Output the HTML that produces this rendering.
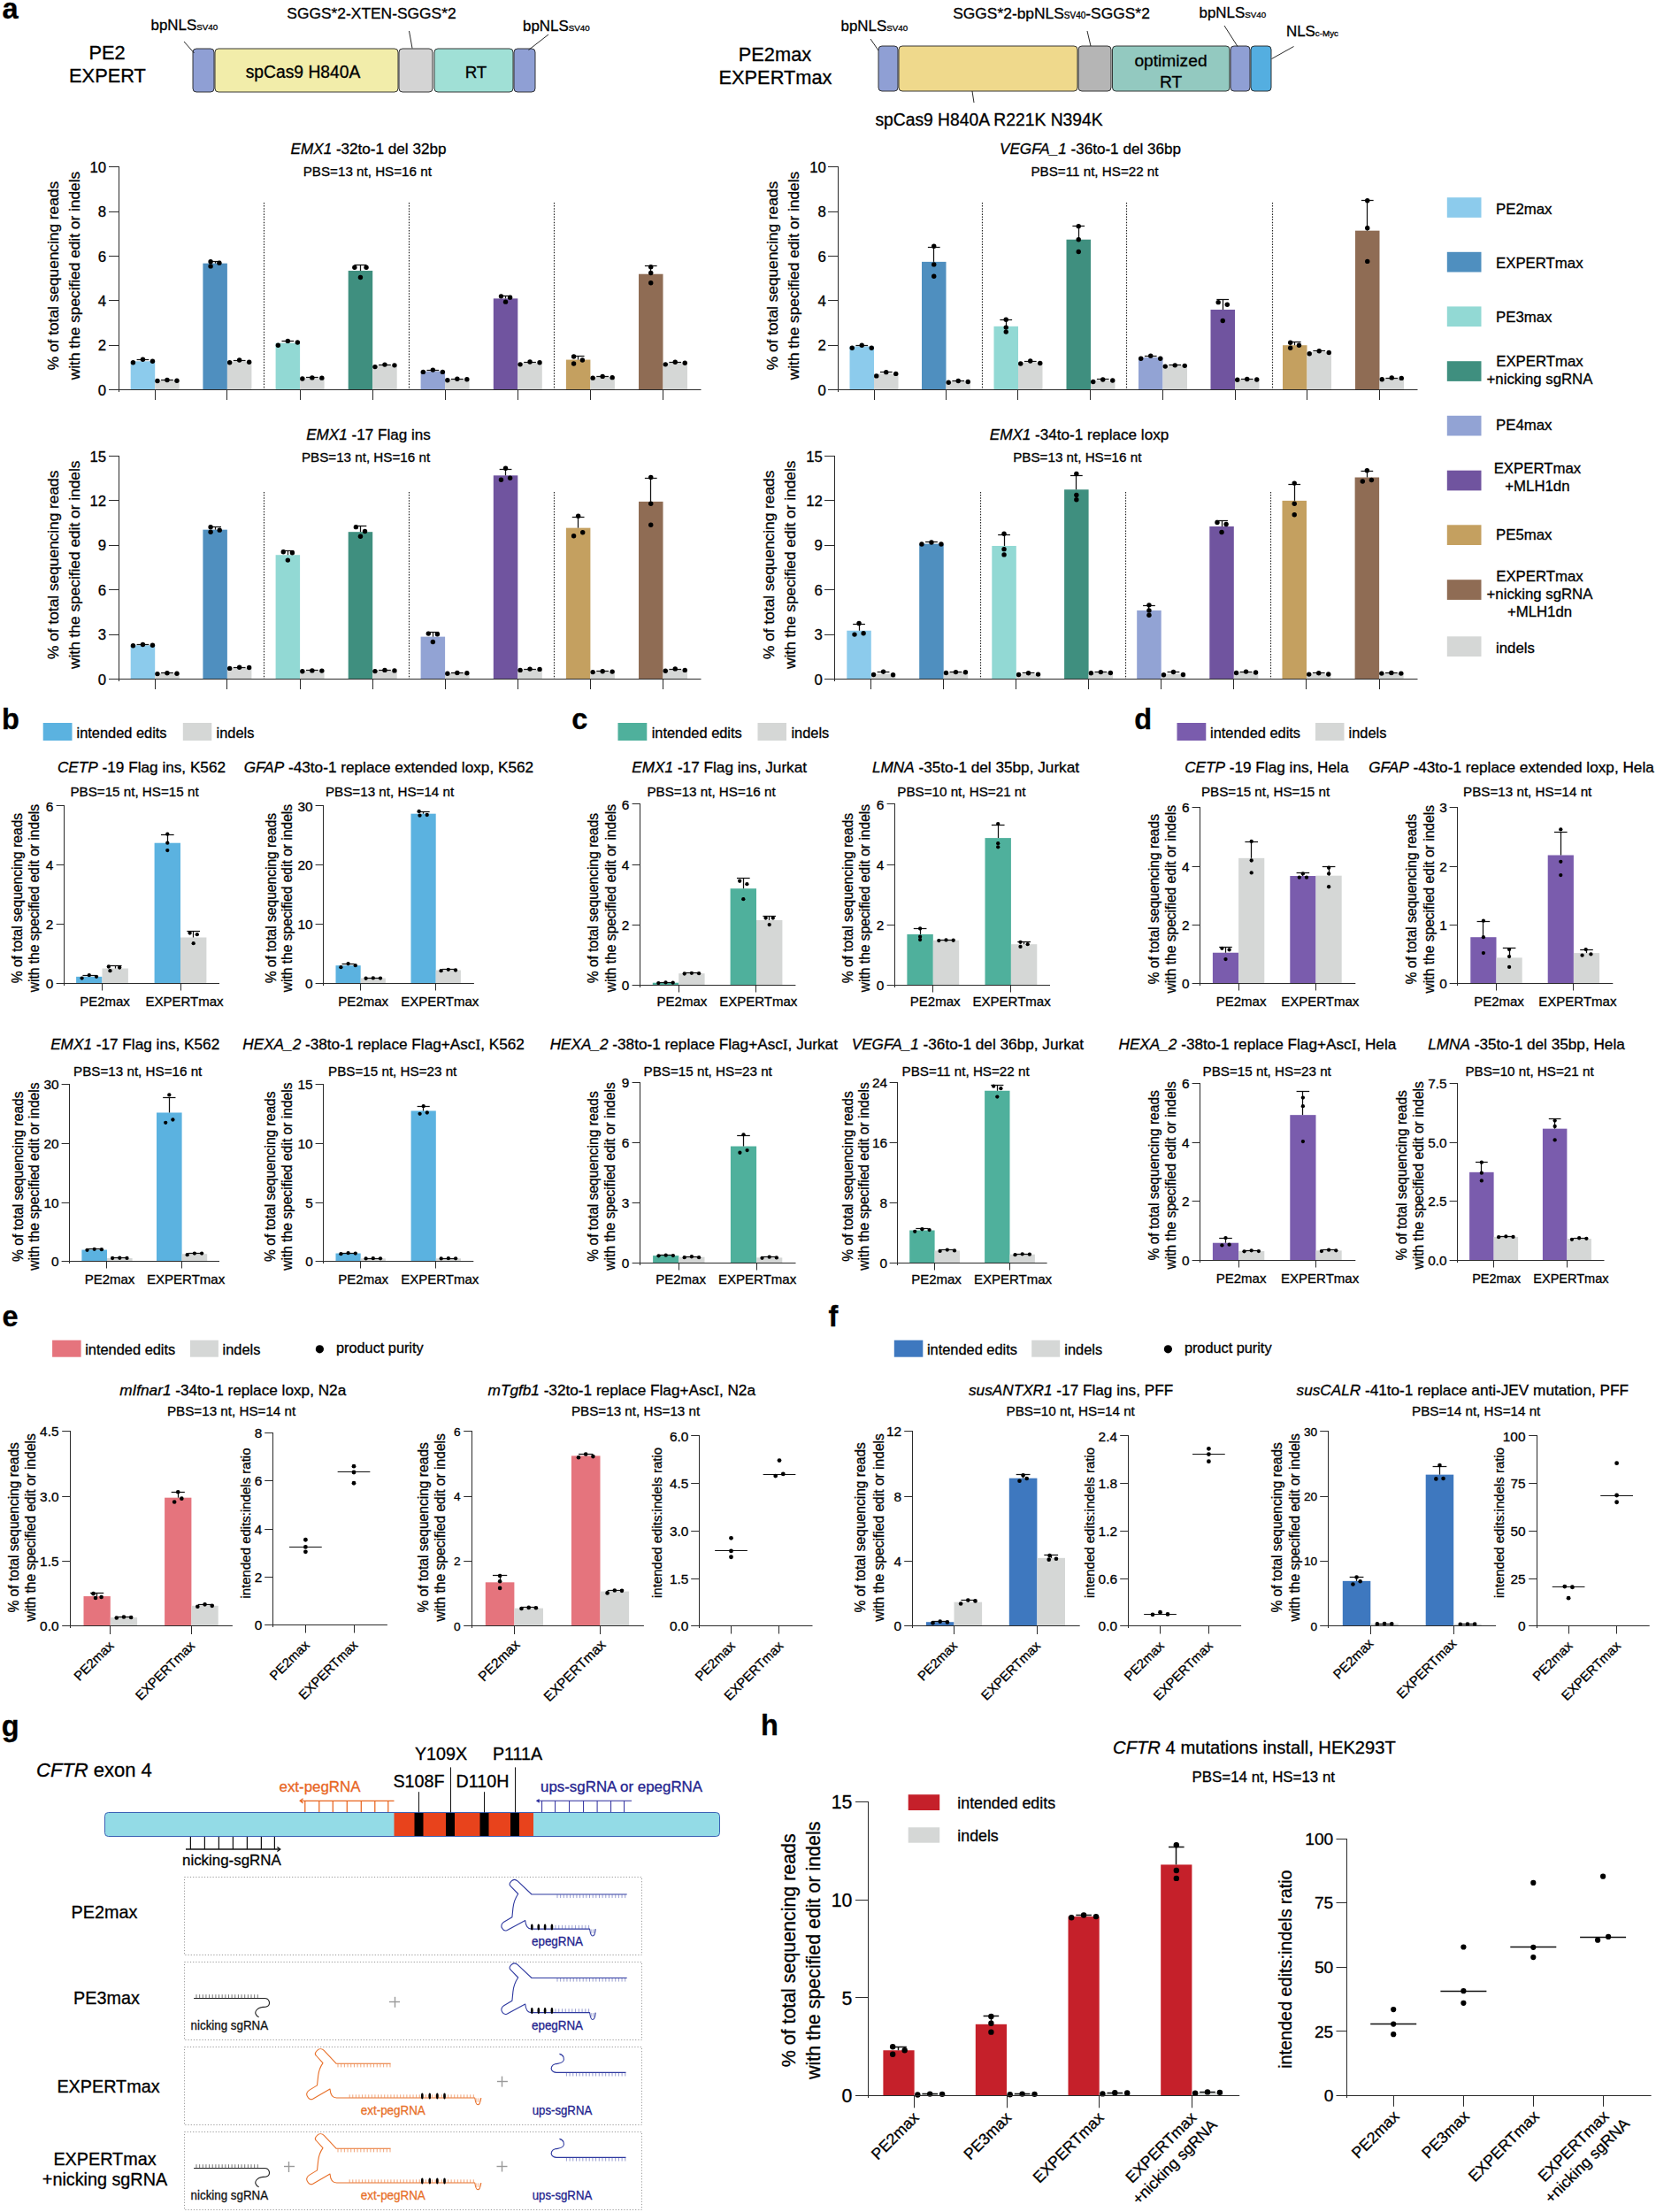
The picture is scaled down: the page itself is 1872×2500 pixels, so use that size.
<!DOCTYPE html>
<html><head><meta charset="utf-8"><title>Figure</title>
<style>html,body{margin:0;padding:0;background:#fff}svg{display:block}</style></head>
<body>
<svg width="1872" height="2500" viewBox="0 0 1872 2500" font-family='"Liberation Sans", sans-serif' stroke-width="0.3">
<rect width="1872" height="2500" fill="#fff"/>
<text x="2.50" y="21.00" font-size="32.5" text-anchor="start" fill="#000" stroke="#000" font-weight="bold">a</text>
<text x="2.00" y="823.50" font-size="32.5" text-anchor="start" fill="#000" stroke="#000" font-weight="bold">b</text>
<text x="646.30" y="823.50" font-size="32.5" text-anchor="start" fill="#000" stroke="#000" font-weight="bold">c</text>
<text x="1282.30" y="823.50" font-size="32.5" text-anchor="start" fill="#000" stroke="#000" font-weight="bold">d</text>
<text x="2.40" y="1498.60" font-size="32.5" text-anchor="start" fill="#000" stroke="#000" font-weight="bold">e</text>
<text x="936.60" y="1498.50" font-size="32.5" text-anchor="start" fill="#000" stroke="#000" font-weight="bold">f</text>
<text x="1.80" y="1961.50" font-size="32.5" text-anchor="start" fill="#000" stroke="#000" font-weight="bold">g</text>
<text x="860.00" y="1961.00" font-size="32.5" text-anchor="start" fill="#000" stroke="#000" font-weight="bold">h</text>
<text x="121.00" y="67.00" font-size="21.8" text-anchor="middle" fill="#000" stroke="#000">PE2</text>
<text x="121.50" y="93.00" font-size="21.8" text-anchor="middle" fill="#000" stroke="#000">EXPERT</text>
<rect x="218.00" y="55.00" width="24.00" height="49.00" rx="4" ry="4" fill="#8f9fd4" stroke="#222" stroke-width="0.9"/>
<rect x="243.00" y="55.00" width="207.00" height="49.00" rx="4" ry="4" fill="#f2edaa" stroke="#222" stroke-width="0.9"/>
<rect x="451.00" y="55.00" width="38.00" height="49.00" rx="4" ry="4" fill="#d4d4d4" stroke="#222" stroke-width="0.9"/>
<rect x="491.00" y="55.00" width="89.00" height="49.00" rx="4" ry="4" fill="#a0e0d6" stroke="#222" stroke-width="0.9"/>
<rect x="581.00" y="55.00" width="24.00" height="49.00" rx="4" ry="4" fill="#8f9fd4" stroke="#222" stroke-width="0.9"/>
<text x="342.50" y="88.00" font-size="19.3" text-anchor="middle" fill="#000" stroke="#000">spCas9 H840A</text>
<text x="538.00" y="88.00" font-size="18.8" text-anchor="middle" fill="#000" stroke="#000">RT</text>
<text x="170.50" y="34.20" font-size="16.9" text-anchor="start" fill="#000" stroke="#000">bpNLS<tspan font-size="9.80">SV40</tspan></text>
<text x="591.00" y="34.50" font-size="16.9" text-anchor="start" fill="#000" stroke="#000">bpNLS<tspan font-size="9.80">SV40</tspan></text>
<text x="420.00" y="21.00" font-size="17.4" text-anchor="middle" fill="#000" stroke="#000">SGGS*2-XTEN-SGGS*2</text>
<line x1="208.00" y1="47.00" x2="219.50" y2="60.00" stroke="#111" stroke-width="0.9"/>
<line x1="462.50" y1="35.00" x2="466.00" y2="54.50" stroke="#111" stroke-width="0.9"/>
<line x1="620.00" y1="39.00" x2="597.50" y2="56.50" stroke="#111" stroke-width="0.9"/>
<text x="876.00" y="69.00" font-size="21.8" text-anchor="middle" fill="#000" stroke="#000">PE2max</text>
<text x="876.50" y="95.00" font-size="21.8" text-anchor="middle" fill="#000" stroke="#000">EXPERTmax</text>
<rect x="993.00" y="52.00" width="22.00" height="51.00" rx="4" ry="4" fill="#8f9fd4" stroke="#222" stroke-width="0.9"/>
<rect x="1016.00" y="52.00" width="202.00" height="51.00" rx="4" ry="4" fill="#efd98c" stroke="#222" stroke-width="0.9"/>
<rect x="1219.00" y="52.00" width="37.00" height="51.00" rx="4" ry="4" fill="#b5b5b5" stroke="#222" stroke-width="0.9"/>
<rect x="1257.50" y="52.00" width="132.50" height="51.00" rx="4" ry="4" fill="#93c9c0" stroke="#222" stroke-width="0.9"/>
<rect x="1391.00" y="52.00" width="22.00" height="51.00" rx="4" ry="4" fill="#8f9fd4" stroke="#222" stroke-width="0.9"/>
<rect x="1414.00" y="52.00" width="23.00" height="51.00" rx="4" ry="4" fill="#54aee0" stroke="#222" stroke-width="0.9"/>
<text x="1323.50" y="75.00" font-size="19.2" text-anchor="middle" fill="#000" stroke="#000">optimized</text>
<text x="1323.50" y="99.00" font-size="19.2" text-anchor="middle" fill="#000" stroke="#000">RT</text>
<text x="950.50" y="35.00" font-size="16.9" text-anchor="start" fill="#000" stroke="#000">bpNLS<tspan font-size="9.80">SV40</tspan></text>
<text x="1355.50" y="20.00" font-size="16.9" text-anchor="start" fill="#000" stroke="#000">bpNLS<tspan font-size="9.80">SV40</tspan></text>
<text x="1454.00" y="41.00" font-size="16.9" text-anchor="start" fill="#000" stroke="#000">NLS<tspan font-size="9.80">c-Myc</tspan></text>
<text x="1188.5" y="21" font-size="17.4" text-anchor="middle" fill="#000" stroke="#000">SGGS*2-bpNLS<tspan font-size="10">SV40</tspan>-SGGS*2</text>
<text x="1118.00" y="142.00" font-size="19.3" text-anchor="middle" fill="#000" stroke="#000">spCas9 H840A R221K N394K</text>
<line x1="984.00" y1="44.00" x2="993.00" y2="57.00" stroke="#111" stroke-width="0.9"/>
<line x1="1229.00" y1="35.00" x2="1233.00" y2="52.00" stroke="#111" stroke-width="0.9"/>
<line x1="1384.00" y1="29.00" x2="1399.00" y2="52.50" stroke="#111" stroke-width="0.9"/>
<line x1="1462.50" y1="52.50" x2="1437.50" y2="66.50" stroke="#111" stroke-width="0.9"/>
<line x1="1099.00" y1="103.00" x2="1101.00" y2="116.00" stroke="#111" stroke-width="0.9"/>
<line x1="298.50" y1="229.00" x2="298.50" y2="440.50" stroke="#222" stroke-width="1.15" stroke-dasharray="1.5 1.6"/>
<line x1="462.50" y1="229.00" x2="462.50" y2="440.50" stroke="#222" stroke-width="1.15" stroke-dasharray="1.5 1.6"/>
<line x1="626.50" y1="229.00" x2="626.50" y2="440.50" stroke="#222" stroke-width="1.15" stroke-dasharray="1.5 1.6"/>
<rect x="147.70" y="408.31" width="27.50" height="31.69" fill="#8ccbec"/>
<line x1="161.50" y1="408.31" x2="161.50" y2="406.80" stroke="#111" stroke-width="1.25"/>
<line x1="154.57" y1="406.50" x2="168.32" y2="406.50" stroke="#111" stroke-width="1.25"/>
<circle cx="150.45" cy="409.82" r="2.7" fill="#000"/>
<circle cx="161.45" cy="406.30" r="2.7" fill="#000"/>
<circle cx="172.45" cy="408.31" r="2.7" fill="#000"/>
<rect x="175.20" y="429.94" width="27.50" height="10.06" fill="#d5d7d6"/>
<line x1="188.50" y1="429.94" x2="188.50" y2="429.43" stroke="#111" stroke-width="1.25"/>
<line x1="182.07" y1="429.50" x2="195.82" y2="429.50" stroke="#111" stroke-width="1.25"/>
<circle cx="177.95" cy="430.44" r="2.7" fill="#000"/>
<circle cx="188.95" cy="429.43" r="2.7" fill="#000"/>
<circle cx="199.95" cy="430.19" r="2.7" fill="#000"/>
<rect x="229.40" y="297.65" width="27.50" height="142.35" fill="#4f8fbf"/>
<line x1="243.50" y1="297.65" x2="243.50" y2="295.13" stroke="#111" stroke-width="1.25"/>
<line x1="236.27" y1="295.50" x2="250.02" y2="295.50" stroke="#111" stroke-width="1.25"/>
<circle cx="238.09" cy="295.64" r="2.7" fill="#000"/>
<circle cx="238.09" cy="300.92" r="2.7" fill="#000"/>
<circle cx="247.88" cy="297.14" r="2.7" fill="#000"/>
<rect x="256.90" y="408.56" width="27.50" height="31.44" fill="#d5d7d6"/>
<line x1="270.50" y1="408.56" x2="270.50" y2="407.30" stroke="#111" stroke-width="1.25"/>
<line x1="263.77" y1="407.50" x2="277.52" y2="407.50" stroke="#111" stroke-width="1.25"/>
<circle cx="259.65" cy="409.82" r="2.7" fill="#000"/>
<circle cx="270.65" cy="407.05" r="2.7" fill="#000"/>
<circle cx="281.65" cy="409.31" r="2.7" fill="#000"/>
<rect x="311.60" y="387.69" width="27.50" height="52.31" fill="#92d9d4"/>
<line x1="325.50" y1="387.69" x2="325.50" y2="385.67" stroke="#111" stroke-width="1.25"/>
<line x1="318.48" y1="385.50" x2="332.23" y2="385.50" stroke="#111" stroke-width="1.25"/>
<circle cx="314.35" cy="390.20" r="2.7" fill="#000"/>
<circle cx="325.35" cy="385.42" r="2.7" fill="#000"/>
<circle cx="336.35" cy="386.93" r="2.7" fill="#000"/>
<rect x="339.10" y="427.42" width="27.50" height="12.58" fill="#d5d7d6"/>
<line x1="352.50" y1="427.42" x2="352.50" y2="426.92" stroke="#111" stroke-width="1.25"/>
<line x1="345.98" y1="426.50" x2="359.73" y2="426.50" stroke="#111" stroke-width="1.25"/>
<circle cx="341.85" cy="427.93" r="2.7" fill="#000"/>
<circle cx="352.85" cy="426.92" r="2.7" fill="#000"/>
<circle cx="363.85" cy="427.17" r="2.7" fill="#000"/>
<rect x="393.70" y="305.95" width="27.50" height="134.05" fill="#3f8f7f"/>
<line x1="407.50" y1="305.95" x2="407.50" y2="299.66" stroke="#111" stroke-width="1.25"/>
<line x1="400.57" y1="299.50" x2="414.32" y2="299.50" stroke="#111" stroke-width="1.25"/>
<circle cx="400.85" cy="302.18" r="2.7" fill="#000"/>
<circle cx="407.45" cy="313.49" r="2.7" fill="#000"/>
<circle cx="414.05" cy="302.18" r="2.7" fill="#000"/>
<rect x="421.20" y="413.34" width="27.50" height="26.66" fill="#d5d7d6"/>
<line x1="434.50" y1="413.34" x2="434.50" y2="412.33" stroke="#111" stroke-width="1.25"/>
<line x1="428.07" y1="412.50" x2="441.82" y2="412.50" stroke="#111" stroke-width="1.25"/>
<circle cx="423.95" cy="414.60" r="2.7" fill="#000"/>
<circle cx="434.95" cy="412.08" r="2.7" fill="#000"/>
<circle cx="445.95" cy="412.83" r="2.7" fill="#000"/>
<rect x="475.60" y="419.63" width="27.50" height="20.37" fill="#92a3d4"/>
<line x1="489.50" y1="419.63" x2="489.50" y2="418.37" stroke="#111" stroke-width="1.25"/>
<line x1="482.48" y1="418.50" x2="496.23" y2="418.50" stroke="#111" stroke-width="1.25"/>
<circle cx="478.35" cy="420.38" r="2.7" fill="#000"/>
<circle cx="489.35" cy="418.12" r="2.7" fill="#000"/>
<circle cx="500.35" cy="420.38" r="2.7" fill="#000"/>
<rect x="503.10" y="428.68" width="27.50" height="11.32" fill="#d5d7d6"/>
<line x1="516.50" y1="428.68" x2="516.50" y2="428.18" stroke="#111" stroke-width="1.25"/>
<line x1="509.98" y1="428.50" x2="523.73" y2="428.50" stroke="#111" stroke-width="1.25"/>
<circle cx="505.85" cy="429.69" r="2.7" fill="#000"/>
<circle cx="516.85" cy="428.18" r="2.7" fill="#000"/>
<circle cx="527.85" cy="428.68" r="2.7" fill="#000"/>
<rect x="557.80" y="337.38" width="27.50" height="102.62" fill="#70549f"/>
<line x1="571.50" y1="337.38" x2="571.50" y2="334.37" stroke="#111" stroke-width="1.25"/>
<line x1="564.67" y1="334.50" x2="578.42" y2="334.50" stroke="#111" stroke-width="1.25"/>
<circle cx="566.49" cy="334.87" r="2.7" fill="#000"/>
<circle cx="571.55" cy="341.16" r="2.7" fill="#000"/>
<circle cx="576.61" cy="336.13" r="2.7" fill="#000"/>
<rect x="585.30" y="410.32" width="27.50" height="29.68" fill="#d5d7d6"/>
<line x1="599.50" y1="410.32" x2="599.50" y2="409.31" stroke="#111" stroke-width="1.25"/>
<line x1="592.17" y1="409.50" x2="605.92" y2="409.50" stroke="#111" stroke-width="1.25"/>
<circle cx="588.05" cy="411.83" r="2.7" fill="#000"/>
<circle cx="599.05" cy="409.06" r="2.7" fill="#000"/>
<circle cx="610.05" cy="409.82" r="2.7" fill="#000"/>
<rect x="639.90" y="406.55" width="27.50" height="33.45" fill="#c4a060"/>
<line x1="653.50" y1="406.55" x2="653.50" y2="402.52" stroke="#111" stroke-width="1.25"/>
<line x1="646.77" y1="402.50" x2="660.52" y2="402.50" stroke="#111" stroke-width="1.25"/>
<circle cx="648.59" cy="403.03" r="2.7" fill="#000"/>
<circle cx="648.59" cy="411.07" r="2.7" fill="#000"/>
<circle cx="658.38" cy="407.05" r="2.7" fill="#000"/>
<rect x="667.40" y="426.16" width="27.50" height="13.84" fill="#d5d7d6"/>
<line x1="681.50" y1="426.16" x2="681.50" y2="425.41" stroke="#111" stroke-width="1.25"/>
<line x1="674.27" y1="425.50" x2="688.02" y2="425.50" stroke="#111" stroke-width="1.25"/>
<circle cx="670.15" cy="427.17" r="2.7" fill="#000"/>
<circle cx="681.15" cy="425.41" r="2.7" fill="#000"/>
<circle cx="692.15" cy="426.67" r="2.7" fill="#000"/>
<rect x="722.00" y="309.72" width="27.50" height="130.28" fill="#8f6c54"/>
<line x1="735.50" y1="309.72" x2="735.50" y2="300.16" stroke="#111" stroke-width="1.25"/>
<line x1="728.88" y1="300.50" x2="742.62" y2="300.50" stroke="#111" stroke-width="1.25"/>
<circle cx="735.75" cy="301.67" r="2.7" fill="#000"/>
<circle cx="735.75" cy="308.46" r="2.7" fill="#000"/>
<circle cx="735.75" cy="319.78" r="2.7" fill="#000"/>
<rect x="749.50" y="410.32" width="27.50" height="29.68" fill="#d5d7d6"/>
<line x1="763.50" y1="410.32" x2="763.50" y2="409.31" stroke="#111" stroke-width="1.25"/>
<line x1="756.38" y1="409.50" x2="770.12" y2="409.50" stroke="#111" stroke-width="1.25"/>
<circle cx="752.25" cy="411.83" r="2.7" fill="#000"/>
<circle cx="763.25" cy="409.31" r="2.7" fill="#000"/>
<circle cx="774.25" cy="410.32" r="2.7" fill="#000"/>
<line x1="134.50" y1="188.00" x2="134.50" y2="443.00" stroke="#2b2b2b" stroke-width="1"/>
<line x1="123.00" y1="440.50" x2="792.50" y2="440.50" stroke="#2b2b2b" stroke-width="1"/>
<text x="120.20" y="446.51" font-size="16.8" text-anchor="end" fill="#000" stroke="#000">0</text>
<line x1="123.00" y1="390.50" x2="134.50" y2="390.50" stroke="#2b2b2b" stroke-width="1"/>
<text x="120.20" y="396.21" font-size="16.8" text-anchor="end" fill="#000" stroke="#000">2</text>
<line x1="123.00" y1="339.50" x2="134.50" y2="339.50" stroke="#2b2b2b" stroke-width="1"/>
<text x="120.20" y="345.91" font-size="16.8" text-anchor="end" fill="#000" stroke="#000">4</text>
<line x1="123.00" y1="289.50" x2="134.50" y2="289.50" stroke="#2b2b2b" stroke-width="1"/>
<text x="120.20" y="295.61" font-size="16.8" text-anchor="end" fill="#000" stroke="#000">6</text>
<line x1="123.00" y1="239.50" x2="134.50" y2="239.50" stroke="#2b2b2b" stroke-width="1"/>
<text x="120.20" y="245.31" font-size="16.8" text-anchor="end" fill="#000" stroke="#000">8</text>
<line x1="123.00" y1="188.50" x2="134.50" y2="188.50" stroke="#2b2b2b" stroke-width="1"/>
<text x="120.20" y="195.01" font-size="16.8" text-anchor="end" fill="#000" stroke="#000">10</text>
<line x1="175.50" y1="440.50" x2="175.50" y2="452.00" stroke="#2b2b2b" stroke-width="1"/>
<line x1="256.50" y1="440.50" x2="256.50" y2="452.00" stroke="#2b2b2b" stroke-width="1"/>
<line x1="339.50" y1="440.50" x2="339.50" y2="452.00" stroke="#2b2b2b" stroke-width="1"/>
<line x1="421.50" y1="440.50" x2="421.50" y2="452.00" stroke="#2b2b2b" stroke-width="1"/>
<line x1="503.50" y1="440.50" x2="503.50" y2="452.00" stroke="#2b2b2b" stroke-width="1"/>
<line x1="585.50" y1="440.50" x2="585.50" y2="452.00" stroke="#2b2b2b" stroke-width="1"/>
<line x1="667.50" y1="440.50" x2="667.50" y2="452.00" stroke="#2b2b2b" stroke-width="1"/>
<line x1="749.50" y1="440.50" x2="749.50" y2="452.00" stroke="#2b2b2b" stroke-width="1"/>
<text x="416.50" y="174.00" font-size="17.1" text-anchor="middle" fill="#000" stroke="#000"><tspan font-style="italic">EMX1</tspan> -32to-1 del 32bp</text>
<text x="415.30" y="199.00" font-size="15.2" text-anchor="middle" fill="#000" stroke="#000">PBS=13 nt, HS=16 nt</text>
<text x="65.60" y="311.55" font-size="17.3" text-anchor="middle" fill="#000" stroke="#000" transform="rotate(-90 65.60 311.55)">% of total sequencing reads</text>
<text x="89.60" y="311.55" font-size="17.3" text-anchor="middle" fill="#000" stroke="#000" transform="rotate(-90 89.60 311.55)">with the specified edit or indels</text>
<line x1="1110.50" y1="229.00" x2="1110.50" y2="440.50" stroke="#222" stroke-width="1.15" stroke-dasharray="1.5 1.6"/>
<line x1="1273.50" y1="229.00" x2="1273.50" y2="440.50" stroke="#222" stroke-width="1.15" stroke-dasharray="1.5 1.6"/>
<line x1="1438.50" y1="229.00" x2="1438.50" y2="440.50" stroke="#222" stroke-width="1.15" stroke-dasharray="1.5 1.6"/>
<rect x="960.50" y="391.46" width="27.50" height="48.54" fill="#8ccbec"/>
<line x1="974.50" y1="391.46" x2="974.50" y2="390.20" stroke="#111" stroke-width="1.25"/>
<line x1="967.38" y1="390.50" x2="981.12" y2="390.50" stroke="#111" stroke-width="1.25"/>
<circle cx="963.25" cy="393.22" r="2.7" fill="#000"/>
<circle cx="974.25" cy="390.20" r="2.7" fill="#000"/>
<circle cx="985.25" cy="393.22" r="2.7" fill="#000"/>
<rect x="988.00" y="422.39" width="27.50" height="17.61" fill="#d5d7d6"/>
<line x1="1001.50" y1="422.39" x2="1001.50" y2="420.88" stroke="#111" stroke-width="1.25"/>
<line x1="994.88" y1="420.50" x2="1008.62" y2="420.50" stroke="#111" stroke-width="1.25"/>
<circle cx="990.75" cy="424.91" r="2.7" fill="#000"/>
<circle cx="1001.75" cy="420.63" r="2.7" fill="#000"/>
<circle cx="1012.75" cy="422.39" r="2.7" fill="#000"/>
<rect x="1042.00" y="295.89" width="27.50" height="144.11" fill="#4f8fbf"/>
<line x1="1055.50" y1="295.89" x2="1055.50" y2="279.04" stroke="#111" stroke-width="1.25"/>
<line x1="1048.88" y1="279.50" x2="1062.62" y2="279.50" stroke="#111" stroke-width="1.25"/>
<circle cx="1055.75" cy="278.28" r="2.7" fill="#000"/>
<circle cx="1055.75" cy="298.91" r="2.7" fill="#000"/>
<circle cx="1055.75" cy="312.24" r="2.7" fill="#000"/>
<rect x="1069.50" y="430.94" width="27.50" height="9.06" fill="#d5d7d6"/>
<line x1="1083.50" y1="430.94" x2="1083.50" y2="430.44" stroke="#111" stroke-width="1.25"/>
<line x1="1076.38" y1="430.50" x2="1090.12" y2="430.50" stroke="#111" stroke-width="1.25"/>
<circle cx="1072.25" cy="432.20" r="2.7" fill="#000"/>
<circle cx="1083.25" cy="430.44" r="2.7" fill="#000"/>
<circle cx="1094.25" cy="431.45" r="2.7" fill="#000"/>
<rect x="1123.50" y="368.82" width="27.50" height="71.18" fill="#92d9d4"/>
<line x1="1137.50" y1="368.82" x2="1137.50" y2="361.28" stroke="#111" stroke-width="1.25"/>
<line x1="1130.38" y1="361.50" x2="1144.12" y2="361.50" stroke="#111" stroke-width="1.25"/>
<circle cx="1137.25" cy="361.28" r="2.7" fill="#000"/>
<circle cx="1137.25" cy="370.08" r="2.7" fill="#000"/>
<circle cx="1137.25" cy="375.11" r="2.7" fill="#000"/>
<rect x="1151.00" y="409.82" width="27.50" height="30.18" fill="#d5d7d6"/>
<line x1="1164.50" y1="409.82" x2="1164.50" y2="408.31" stroke="#111" stroke-width="1.25"/>
<line x1="1157.88" y1="408.50" x2="1171.62" y2="408.50" stroke="#111" stroke-width="1.25"/>
<circle cx="1153.75" cy="411.07" r="2.7" fill="#000"/>
<circle cx="1164.75" cy="408.06" r="2.7" fill="#000"/>
<circle cx="1175.75" cy="410.57" r="2.7" fill="#000"/>
<rect x="1205.50" y="270.74" width="27.50" height="169.26" fill="#3f8f7f"/>
<line x1="1219.50" y1="270.74" x2="1219.50" y2="255.65" stroke="#111" stroke-width="1.25"/>
<line x1="1212.38" y1="255.50" x2="1226.12" y2="255.50" stroke="#111" stroke-width="1.25"/>
<circle cx="1219.25" cy="255.65" r="2.7" fill="#000"/>
<circle cx="1219.25" cy="270.74" r="2.7" fill="#000"/>
<circle cx="1219.25" cy="284.57" r="2.7" fill="#000"/>
<rect x="1233.00" y="429.94" width="27.50" height="10.06" fill="#d5d7d6"/>
<line x1="1246.50" y1="429.94" x2="1246.50" y2="428.93" stroke="#111" stroke-width="1.25"/>
<line x1="1239.88" y1="428.50" x2="1253.62" y2="428.50" stroke="#111" stroke-width="1.25"/>
<circle cx="1235.75" cy="431.45" r="2.7" fill="#000"/>
<circle cx="1246.75" cy="428.93" r="2.7" fill="#000"/>
<circle cx="1257.75" cy="429.94" r="2.7" fill="#000"/>
<rect x="1287.00" y="404.03" width="27.50" height="35.97" fill="#92a3d4"/>
<line x1="1300.50" y1="404.03" x2="1300.50" y2="402.77" stroke="#111" stroke-width="1.25"/>
<line x1="1293.88" y1="402.50" x2="1307.62" y2="402.50" stroke="#111" stroke-width="1.25"/>
<circle cx="1289.75" cy="405.29" r="2.7" fill="#000"/>
<circle cx="1300.75" cy="402.27" r="2.7" fill="#000"/>
<circle cx="1311.75" cy="405.29" r="2.7" fill="#000"/>
<rect x="1314.50" y="413.34" width="27.50" height="26.66" fill="#d5d7d6"/>
<line x1="1328.50" y1="413.34" x2="1328.50" y2="412.83" stroke="#111" stroke-width="1.25"/>
<line x1="1321.38" y1="412.50" x2="1335.12" y2="412.50" stroke="#111" stroke-width="1.25"/>
<circle cx="1317.25" cy="414.09" r="2.7" fill="#000"/>
<circle cx="1328.25" cy="412.83" r="2.7" fill="#000"/>
<circle cx="1339.25" cy="413.34" r="2.7" fill="#000"/>
<rect x="1368.50" y="349.96" width="27.50" height="90.04" fill="#70549f"/>
<line x1="1382.50" y1="349.96" x2="1382.50" y2="338.64" stroke="#111" stroke-width="1.25"/>
<line x1="1375.38" y1="338.50" x2="1389.12" y2="338.50" stroke="#111" stroke-width="1.25"/>
<circle cx="1377.19" cy="341.66" r="2.7" fill="#000"/>
<circle cx="1387.31" cy="344.18" r="2.7" fill="#000"/>
<circle cx="1382.25" cy="362.53" r="2.7" fill="#000"/>
<rect x="1396.00" y="429.18" width="27.50" height="10.82" fill="#d5d7d6"/>
<line x1="1409.50" y1="429.18" x2="1409.50" y2="428.43" stroke="#111" stroke-width="1.25"/>
<line x1="1402.88" y1="428.50" x2="1416.62" y2="428.50" stroke="#111" stroke-width="1.25"/>
<circle cx="1398.75" cy="429.18" r="2.7" fill="#000"/>
<circle cx="1409.75" cy="428.43" r="2.7" fill="#000"/>
<circle cx="1420.75" cy="428.93" r="2.7" fill="#000"/>
<rect x="1450.00" y="390.20" width="27.50" height="49.80" fill="#c4a060"/>
<line x1="1463.50" y1="390.20" x2="1463.50" y2="386.93" stroke="#111" stroke-width="1.25"/>
<line x1="1456.88" y1="386.50" x2="1470.62" y2="386.50" stroke="#111" stroke-width="1.25"/>
<circle cx="1458.69" cy="387.18" r="2.7" fill="#000"/>
<circle cx="1458.69" cy="393.22" r="2.7" fill="#000"/>
<circle cx="1468.48" cy="390.20" r="2.7" fill="#000"/>
<rect x="1477.50" y="397.75" width="27.50" height="42.25" fill="#d5d7d6"/>
<line x1="1491.50" y1="397.75" x2="1491.50" y2="396.99" stroke="#111" stroke-width="1.25"/>
<line x1="1484.38" y1="396.50" x2="1498.12" y2="396.50" stroke="#111" stroke-width="1.25"/>
<circle cx="1480.25" cy="399.76" r="2.7" fill="#000"/>
<circle cx="1491.25" cy="396.74" r="2.7" fill="#000"/>
<circle cx="1502.25" cy="398.50" r="2.7" fill="#000"/>
<rect x="1532.00" y="260.68" width="27.50" height="179.32" fill="#8f6c54"/>
<line x1="1545.50" y1="260.68" x2="1545.50" y2="226.73" stroke="#111" stroke-width="1.25"/>
<line x1="1538.88" y1="226.50" x2="1552.62" y2="226.50" stroke="#111" stroke-width="1.25"/>
<circle cx="1545.75" cy="226.73" r="2.7" fill="#000"/>
<circle cx="1545.75" cy="257.66" r="2.7" fill="#000"/>
<circle cx="1545.75" cy="295.38" r="2.7" fill="#000"/>
<rect x="1559.50" y="427.93" width="27.50" height="12.07" fill="#d5d7d6"/>
<line x1="1573.50" y1="427.93" x2="1573.50" y2="427.17" stroke="#111" stroke-width="1.25"/>
<line x1="1566.38" y1="427.50" x2="1580.12" y2="427.50" stroke="#111" stroke-width="1.25"/>
<circle cx="1562.25" cy="428.68" r="2.7" fill="#000"/>
<circle cx="1573.25" cy="426.92" r="2.7" fill="#000"/>
<circle cx="1584.25" cy="427.42" r="2.7" fill="#000"/>
<line x1="947.50" y1="188.00" x2="947.50" y2="443.00" stroke="#2b2b2b" stroke-width="1"/>
<line x1="936.00" y1="440.50" x2="1602.50" y2="440.50" stroke="#2b2b2b" stroke-width="1"/>
<text x="933.80" y="446.51" font-size="16.8" text-anchor="end" fill="#000" stroke="#000">0</text>
<line x1="936.00" y1="390.50" x2="947.50" y2="390.50" stroke="#2b2b2b" stroke-width="1"/>
<text x="933.80" y="396.21" font-size="16.8" text-anchor="end" fill="#000" stroke="#000">2</text>
<line x1="936.00" y1="339.50" x2="947.50" y2="339.50" stroke="#2b2b2b" stroke-width="1"/>
<text x="933.80" y="345.91" font-size="16.8" text-anchor="end" fill="#000" stroke="#000">4</text>
<line x1="936.00" y1="289.50" x2="947.50" y2="289.50" stroke="#2b2b2b" stroke-width="1"/>
<text x="933.80" y="295.61" font-size="16.8" text-anchor="end" fill="#000" stroke="#000">6</text>
<line x1="936.00" y1="239.50" x2="947.50" y2="239.50" stroke="#2b2b2b" stroke-width="1"/>
<text x="933.80" y="245.31" font-size="16.8" text-anchor="end" fill="#000" stroke="#000">8</text>
<line x1="936.00" y1="188.50" x2="947.50" y2="188.50" stroke="#2b2b2b" stroke-width="1"/>
<text x="933.80" y="195.01" font-size="16.8" text-anchor="end" fill="#000" stroke="#000">10</text>
<line x1="988.50" y1="440.50" x2="988.50" y2="452.00" stroke="#2b2b2b" stroke-width="1"/>
<line x1="1069.50" y1="440.50" x2="1069.50" y2="452.00" stroke="#2b2b2b" stroke-width="1"/>
<line x1="1150.50" y1="440.50" x2="1150.50" y2="452.00" stroke="#2b2b2b" stroke-width="1"/>
<line x1="1232.50" y1="440.50" x2="1232.50" y2="452.00" stroke="#2b2b2b" stroke-width="1"/>
<line x1="1314.50" y1="440.50" x2="1314.50" y2="452.00" stroke="#2b2b2b" stroke-width="1"/>
<line x1="1396.50" y1="440.50" x2="1396.50" y2="452.00" stroke="#2b2b2b" stroke-width="1"/>
<line x1="1477.50" y1="440.50" x2="1477.50" y2="452.00" stroke="#2b2b2b" stroke-width="1"/>
<line x1="1559.50" y1="440.50" x2="1559.50" y2="452.00" stroke="#2b2b2b" stroke-width="1"/>
<text x="1232.50" y="174.00" font-size="17.1" text-anchor="middle" fill="#000" stroke="#000"><tspan font-style="italic">VEGFA_1</tspan> -36to-1 del 36bp</text>
<text x="1237.50" y="199.00" font-size="15.2" text-anchor="middle" fill="#000" stroke="#000">PBS=11 nt, HS=22 nt</text>
<text x="879.20" y="311.55" font-size="17.3" text-anchor="middle" fill="#000" stroke="#000" transform="rotate(-90 879.20 311.55)">% of total sequencing reads</text>
<text x="903.20" y="311.55" font-size="17.3" text-anchor="middle" fill="#000" stroke="#000" transform="rotate(-90 903.20 311.55)">with the specified edit or indels</text>
<line x1="298.50" y1="556.00" x2="298.50" y2="767.50" stroke="#222" stroke-width="1.15" stroke-dasharray="1.5 1.6"/>
<line x1="462.50" y1="556.00" x2="462.50" y2="767.50" stroke="#222" stroke-width="1.15" stroke-dasharray="1.5 1.6"/>
<line x1="626.50" y1="556.00" x2="626.50" y2="767.50" stroke="#222" stroke-width="1.15" stroke-dasharray="1.5 1.6"/>
<rect x="147.70" y="729.36" width="27.50" height="37.64" fill="#8ccbec"/>
<line x1="161.50" y1="729.36" x2="161.50" y2="728.86" stroke="#111" stroke-width="1.25"/>
<line x1="154.57" y1="728.50" x2="168.32" y2="728.50" stroke="#111" stroke-width="1.25"/>
<circle cx="150.45" cy="729.70" r="2.7" fill="#000"/>
<circle cx="161.45" cy="728.52" r="2.7" fill="#000"/>
<circle cx="172.45" cy="729.20" r="2.7" fill="#000"/>
<rect x="175.20" y="761.28" width="27.50" height="5.72" fill="#d5d7d6"/>
<line x1="188.50" y1="761.28" x2="188.50" y2="760.78" stroke="#111" stroke-width="1.25"/>
<line x1="182.07" y1="760.50" x2="195.82" y2="760.50" stroke="#111" stroke-width="1.25"/>
<circle cx="177.95" cy="761.62" r="2.7" fill="#000"/>
<circle cx="188.95" cy="760.78" r="2.7" fill="#000"/>
<circle cx="199.95" cy="761.28" r="2.7" fill="#000"/>
<rect x="229.40" y="598.66" width="27.50" height="168.34" fill="#4f8fbf"/>
<line x1="243.50" y1="598.66" x2="243.50" y2="595.64" stroke="#111" stroke-width="1.25"/>
<line x1="236.27" y1="595.50" x2="250.02" y2="595.50" stroke="#111" stroke-width="1.25"/>
<circle cx="238.09" cy="595.64" r="2.7" fill="#000"/>
<circle cx="238.09" cy="601.18" r="2.7" fill="#000"/>
<circle cx="248.21" cy="599.16" r="2.7" fill="#000"/>
<rect x="256.90" y="754.90" width="27.50" height="12.10" fill="#d5d7d6"/>
<line x1="270.50" y1="754.90" x2="270.50" y2="754.40" stroke="#111" stroke-width="1.25"/>
<line x1="263.77" y1="754.50" x2="277.52" y2="754.50" stroke="#111" stroke-width="1.25"/>
<circle cx="259.65" cy="755.40" r="2.7" fill="#000"/>
<circle cx="270.65" cy="754.23" r="2.7" fill="#000"/>
<circle cx="281.65" cy="754.56" r="2.7" fill="#000"/>
<rect x="311.60" y="627.22" width="27.50" height="139.78" fill="#92d9d4"/>
<line x1="325.50" y1="627.22" x2="325.50" y2="622.35" stroke="#111" stroke-width="1.25"/>
<line x1="318.48" y1="622.50" x2="332.23" y2="622.50" stroke="#111" stroke-width="1.25"/>
<circle cx="320.29" cy="623.69" r="2.7" fill="#000"/>
<circle cx="330.41" cy="624.70" r="2.7" fill="#000"/>
<circle cx="325.35" cy="633.10" r="2.7" fill="#000"/>
<rect x="339.10" y="758.26" width="27.50" height="8.74" fill="#d5d7d6"/>
<line x1="352.50" y1="758.26" x2="352.50" y2="757.92" stroke="#111" stroke-width="1.25"/>
<line x1="345.98" y1="757.50" x2="359.73" y2="757.50" stroke="#111" stroke-width="1.25"/>
<circle cx="341.85" cy="758.76" r="2.7" fill="#000"/>
<circle cx="352.85" cy="757.92" r="2.7" fill="#000"/>
<circle cx="363.85" cy="758.09" r="2.7" fill="#000"/>
<rect x="393.70" y="601.18" width="27.50" height="165.82" fill="#3f8f7f"/>
<line x1="407.50" y1="601.18" x2="407.50" y2="594.96" stroke="#111" stroke-width="1.25"/>
<line x1="400.57" y1="594.50" x2="414.32" y2="594.50" stroke="#111" stroke-width="1.25"/>
<circle cx="402.39" cy="595.64" r="2.7" fill="#000"/>
<circle cx="412.51" cy="600.51" r="2.7" fill="#000"/>
<circle cx="407.45" cy="606.22" r="2.7" fill="#000"/>
<rect x="421.20" y="757.92" width="27.50" height="9.08" fill="#d5d7d6"/>
<line x1="434.50" y1="757.92" x2="434.50" y2="757.42" stroke="#111" stroke-width="1.25"/>
<line x1="428.07" y1="757.50" x2="441.82" y2="757.50" stroke="#111" stroke-width="1.25"/>
<circle cx="423.95" cy="758.60" r="2.7" fill="#000"/>
<circle cx="434.95" cy="757.42" r="2.7" fill="#000"/>
<circle cx="445.95" cy="757.92" r="2.7" fill="#000"/>
<rect x="475.60" y="719.62" width="27.50" height="47.38" fill="#92a3d4"/>
<line x1="489.50" y1="719.62" x2="489.50" y2="714.75" stroke="#111" stroke-width="1.25"/>
<line x1="482.48" y1="714.50" x2="496.23" y2="714.50" stroke="#111" stroke-width="1.25"/>
<circle cx="484.29" cy="716.09" r="2.7" fill="#000"/>
<circle cx="494.41" cy="716.76" r="2.7" fill="#000"/>
<circle cx="489.35" cy="725.50" r="2.7" fill="#000"/>
<rect x="503.10" y="760.78" width="27.50" height="6.22" fill="#d5d7d6"/>
<line x1="516.50" y1="760.78" x2="516.50" y2="760.44" stroke="#111" stroke-width="1.25"/>
<line x1="509.98" y1="760.50" x2="523.73" y2="760.50" stroke="#111" stroke-width="1.25"/>
<circle cx="505.85" cy="761.28" r="2.7" fill="#000"/>
<circle cx="516.85" cy="760.44" r="2.7" fill="#000"/>
<circle cx="527.85" cy="760.78" r="2.7" fill="#000"/>
<rect x="557.80" y="537.34" width="27.50" height="229.66" fill="#70549f"/>
<line x1="571.50" y1="537.34" x2="571.50" y2="530.62" stroke="#111" stroke-width="1.25"/>
<line x1="564.67" y1="530.50" x2="578.42" y2="530.50" stroke="#111" stroke-width="1.25"/>
<circle cx="571.55" cy="529.28" r="2.7" fill="#000"/>
<circle cx="566.49" cy="542.21" r="2.7" fill="#000"/>
<circle cx="576.61" cy="540.20" r="2.7" fill="#000"/>
<rect x="585.30" y="756.58" width="27.50" height="10.42" fill="#d5d7d6"/>
<line x1="599.50" y1="756.58" x2="599.50" y2="756.08" stroke="#111" stroke-width="1.25"/>
<line x1="592.17" y1="756.50" x2="605.92" y2="756.50" stroke="#111" stroke-width="1.25"/>
<circle cx="588.05" cy="757.42" r="2.7" fill="#000"/>
<circle cx="599.05" cy="756.08" r="2.7" fill="#000"/>
<circle cx="610.05" cy="756.41" r="2.7" fill="#000"/>
<rect x="639.90" y="596.64" width="27.50" height="170.36" fill="#c4a060"/>
<line x1="653.50" y1="596.64" x2="653.50" y2="584.72" stroke="#111" stroke-width="1.25"/>
<line x1="646.77" y1="584.50" x2="660.52" y2="584.50" stroke="#111" stroke-width="1.25"/>
<circle cx="653.65" cy="583.20" r="2.7" fill="#000"/>
<circle cx="648.59" cy="605.72" r="2.7" fill="#000"/>
<circle cx="658.71" cy="601.68" r="2.7" fill="#000"/>
<rect x="667.40" y="759.10" width="27.50" height="7.90" fill="#d5d7d6"/>
<line x1="681.50" y1="759.10" x2="681.50" y2="758.76" stroke="#111" stroke-width="1.25"/>
<line x1="674.27" y1="758.50" x2="688.02" y2="758.50" stroke="#111" stroke-width="1.25"/>
<circle cx="670.15" cy="759.60" r="2.7" fill="#000"/>
<circle cx="681.15" cy="758.76" r="2.7" fill="#000"/>
<circle cx="692.15" cy="759.10" r="2.7" fill="#000"/>
<rect x="722.00" y="566.91" width="27.50" height="200.09" fill="#8f6c54"/>
<line x1="735.50" y1="566.91" x2="735.50" y2="540.20" stroke="#111" stroke-width="1.25"/>
<line x1="728.88" y1="540.50" x2="742.62" y2="540.50" stroke="#111" stroke-width="1.25"/>
<circle cx="735.75" cy="539.52" r="2.7" fill="#000"/>
<circle cx="735.75" cy="569.26" r="2.7" fill="#000"/>
<circle cx="735.75" cy="593.28" r="2.7" fill="#000"/>
<rect x="749.50" y="756.92" width="27.50" height="10.08" fill="#d5d7d6"/>
<line x1="763.50" y1="756.92" x2="763.50" y2="756.08" stroke="#111" stroke-width="1.25"/>
<line x1="756.38" y1="756.50" x2="770.12" y2="756.50" stroke="#111" stroke-width="1.25"/>
<circle cx="752.25" cy="758.26" r="2.7" fill="#000"/>
<circle cx="763.25" cy="755.91" r="2.7" fill="#000"/>
<circle cx="774.25" cy="757.42" r="2.7" fill="#000"/>
<line x1="134.50" y1="515.00" x2="134.50" y2="770.00" stroke="#2b2b2b" stroke-width="1"/>
<line x1="123.00" y1="767.50" x2="792.50" y2="767.50" stroke="#2b2b2b" stroke-width="1"/>
<text x="120.20" y="773.51" font-size="16.8" text-anchor="end" fill="#000" stroke="#000">0</text>
<line x1="123.00" y1="717.50" x2="134.50" y2="717.50" stroke="#2b2b2b" stroke-width="1"/>
<text x="120.20" y="723.11" font-size="16.8" text-anchor="end" fill="#000" stroke="#000">3</text>
<line x1="123.00" y1="666.50" x2="134.50" y2="666.50" stroke="#2b2b2b" stroke-width="1"/>
<text x="120.20" y="672.71" font-size="16.8" text-anchor="end" fill="#000" stroke="#000">6</text>
<line x1="123.00" y1="616.50" x2="134.50" y2="616.50" stroke="#2b2b2b" stroke-width="1"/>
<text x="120.20" y="622.31" font-size="16.8" text-anchor="end" fill="#000" stroke="#000">9</text>
<line x1="123.00" y1="565.50" x2="134.50" y2="565.50" stroke="#2b2b2b" stroke-width="1"/>
<text x="120.20" y="571.91" font-size="16.8" text-anchor="end" fill="#000" stroke="#000">12</text>
<line x1="123.00" y1="515.50" x2="134.50" y2="515.50" stroke="#2b2b2b" stroke-width="1"/>
<text x="120.20" y="521.51" font-size="16.8" text-anchor="end" fill="#000" stroke="#000">15</text>
<line x1="175.50" y1="767.50" x2="175.50" y2="779.00" stroke="#2b2b2b" stroke-width="1"/>
<line x1="256.50" y1="767.50" x2="256.50" y2="779.00" stroke="#2b2b2b" stroke-width="1"/>
<line x1="339.50" y1="767.50" x2="339.50" y2="779.00" stroke="#2b2b2b" stroke-width="1"/>
<line x1="421.50" y1="767.50" x2="421.50" y2="779.00" stroke="#2b2b2b" stroke-width="1"/>
<line x1="503.50" y1="767.50" x2="503.50" y2="779.00" stroke="#2b2b2b" stroke-width="1"/>
<line x1="585.50" y1="767.50" x2="585.50" y2="779.00" stroke="#2b2b2b" stroke-width="1"/>
<line x1="667.50" y1="767.50" x2="667.50" y2="779.00" stroke="#2b2b2b" stroke-width="1"/>
<line x1="749.50" y1="767.50" x2="749.50" y2="779.00" stroke="#2b2b2b" stroke-width="1"/>
<text x="416.50" y="497.00" font-size="17.1" text-anchor="middle" fill="#000" stroke="#000"><tspan font-style="italic">EMX1</tspan> -17 Flag ins</text>
<text x="413.50" y="521.50" font-size="15.2" text-anchor="middle" fill="#000" stroke="#000">PBS=13 nt, HS=16 nt</text>
<text x="65.60" y="638.30" font-size="17.3" text-anchor="middle" fill="#000" stroke="#000" transform="rotate(-90 65.60 638.30)">% of total sequencing reads</text>
<text x="89.60" y="638.30" font-size="17.3" text-anchor="middle" fill="#000" stroke="#000" transform="rotate(-90 89.60 638.30)">with the specified edit or indels</text>
<line x1="1108.50" y1="556.00" x2="1108.50" y2="767.50" stroke="#222" stroke-width="1.15" stroke-dasharray="1.5 1.6"/>
<line x1="1272.50" y1="556.00" x2="1272.50" y2="767.50" stroke="#222" stroke-width="1.15" stroke-dasharray="1.5 1.6"/>
<line x1="1436.50" y1="556.00" x2="1436.50" y2="767.50" stroke="#222" stroke-width="1.15" stroke-dasharray="1.5 1.6"/>
<rect x="957.30" y="712.73" width="27.50" height="54.27" fill="#8ccbec"/>
<line x1="971.50" y1="712.73" x2="971.50" y2="705.34" stroke="#111" stroke-width="1.25"/>
<line x1="964.17" y1="705.50" x2="977.92" y2="705.50" stroke="#111" stroke-width="1.25"/>
<circle cx="971.05" cy="704.50" r="2.7" fill="#000"/>
<circle cx="965.99" cy="717.10" r="2.7" fill="#000"/>
<circle cx="976.11" cy="715.76" r="2.7" fill="#000"/>
<rect x="984.80" y="761.62" width="27.50" height="5.38" fill="#d5d7d6"/>
<line x1="998.50" y1="761.62" x2="998.50" y2="759.94" stroke="#111" stroke-width="1.25"/>
<line x1="991.67" y1="759.50" x2="1005.42" y2="759.50" stroke="#111" stroke-width="1.25"/>
<circle cx="987.55" cy="762.46" r="2.7" fill="#000"/>
<circle cx="998.55" cy="759.10" r="2.7" fill="#000"/>
<circle cx="1009.55" cy="762.80" r="2.7" fill="#000"/>
<rect x="1039.20" y="614.62" width="27.50" height="152.38" fill="#4f8fbf"/>
<line x1="1052.50" y1="614.62" x2="1052.50" y2="612.94" stroke="#111" stroke-width="1.25"/>
<line x1="1046.08" y1="612.50" x2="1059.83" y2="612.50" stroke="#111" stroke-width="1.25"/>
<circle cx="1041.95" cy="614.96" r="2.7" fill="#000"/>
<circle cx="1052.95" cy="612.94" r="2.7" fill="#000"/>
<circle cx="1063.95" cy="614.96" r="2.7" fill="#000"/>
<rect x="1066.70" y="759.94" width="27.50" height="7.06" fill="#d5d7d6"/>
<line x1="1080.50" y1="759.94" x2="1080.50" y2="759.60" stroke="#111" stroke-width="1.25"/>
<line x1="1073.58" y1="759.50" x2="1087.33" y2="759.50" stroke="#111" stroke-width="1.25"/>
<circle cx="1069.45" cy="760.44" r="2.7" fill="#000"/>
<circle cx="1080.45" cy="759.60" r="2.7" fill="#000"/>
<circle cx="1091.45" cy="759.77" r="2.7" fill="#000"/>
<rect x="1121.30" y="616.97" width="27.50" height="150.03" fill="#92d9d4"/>
<line x1="1135.50" y1="616.97" x2="1135.50" y2="604.88" stroke="#111" stroke-width="1.25"/>
<line x1="1128.17" y1="604.50" x2="1141.92" y2="604.50" stroke="#111" stroke-width="1.25"/>
<circle cx="1135.05" cy="603.20" r="2.7" fill="#000"/>
<circle cx="1135.05" cy="620.67" r="2.7" fill="#000"/>
<circle cx="1135.05" cy="626.88" r="2.7" fill="#000"/>
<rect x="1148.80" y="761.96" width="27.50" height="5.04" fill="#d5d7d6"/>
<line x1="1162.50" y1="761.96" x2="1162.50" y2="760.78" stroke="#111" stroke-width="1.25"/>
<line x1="1155.67" y1="760.50" x2="1169.42" y2="760.50" stroke="#111" stroke-width="1.25"/>
<circle cx="1151.55" cy="762.46" r="2.7" fill="#000"/>
<circle cx="1162.55" cy="760.78" r="2.7" fill="#000"/>
<circle cx="1173.55" cy="762.12" r="2.7" fill="#000"/>
<rect x="1203.10" y="553.30" width="27.50" height="213.70" fill="#3f8f7f"/>
<line x1="1216.50" y1="553.30" x2="1216.50" y2="537.34" stroke="#111" stroke-width="1.25"/>
<line x1="1209.97" y1="537.50" x2="1223.72" y2="537.50" stroke="#111" stroke-width="1.25"/>
<circle cx="1216.85" cy="535.49" r="2.7" fill="#000"/>
<circle cx="1216.85" cy="559.52" r="2.7" fill="#000"/>
<circle cx="1216.85" cy="564.72" r="2.7" fill="#000"/>
<rect x="1230.60" y="760.28" width="27.50" height="6.72" fill="#d5d7d6"/>
<line x1="1244.50" y1="760.28" x2="1244.50" y2="759.60" stroke="#111" stroke-width="1.25"/>
<line x1="1237.47" y1="759.50" x2="1251.22" y2="759.50" stroke="#111" stroke-width="1.25"/>
<circle cx="1233.35" cy="760.78" r="2.7" fill="#000"/>
<circle cx="1244.35" cy="759.60" r="2.7" fill="#000"/>
<circle cx="1255.35" cy="760.44" r="2.7" fill="#000"/>
<rect x="1285.20" y="689.88" width="27.50" height="77.12" fill="#92a3d4"/>
<line x1="1298.50" y1="689.88" x2="1298.50" y2="684.68" stroke="#111" stroke-width="1.25"/>
<line x1="1292.08" y1="684.50" x2="1305.83" y2="684.50" stroke="#111" stroke-width="1.25"/>
<circle cx="1298.95" cy="683.84" r="2.7" fill="#000"/>
<circle cx="1298.95" cy="689.88" r="2.7" fill="#000"/>
<circle cx="1298.95" cy="695.26" r="2.7" fill="#000"/>
<rect x="1312.70" y="761.62" width="27.50" height="5.38" fill="#d5d7d6"/>
<line x1="1326.50" y1="761.62" x2="1326.50" y2="759.94" stroke="#111" stroke-width="1.25"/>
<line x1="1319.58" y1="759.50" x2="1333.33" y2="759.50" stroke="#111" stroke-width="1.25"/>
<circle cx="1315.45" cy="762.80" r="2.7" fill="#000"/>
<circle cx="1326.45" cy="759.44" r="2.7" fill="#000"/>
<circle cx="1337.45" cy="762.46" r="2.7" fill="#000"/>
<rect x="1367.30" y="594.96" width="27.50" height="172.04" fill="#70549f"/>
<line x1="1381.50" y1="594.96" x2="1381.50" y2="588.75" stroke="#111" stroke-width="1.25"/>
<line x1="1374.17" y1="588.50" x2="1387.92" y2="588.50" stroke="#111" stroke-width="1.25"/>
<circle cx="1375.99" cy="590.43" r="2.7" fill="#000"/>
<circle cx="1386.11" cy="592.44" r="2.7" fill="#000"/>
<circle cx="1381.05" cy="601.52" r="2.7" fill="#000"/>
<rect x="1394.80" y="759.60" width="27.50" height="7.40" fill="#d5d7d6"/>
<line x1="1408.50" y1="759.60" x2="1408.50" y2="759.10" stroke="#111" stroke-width="1.25"/>
<line x1="1401.67" y1="759.50" x2="1415.42" y2="759.50" stroke="#111" stroke-width="1.25"/>
<circle cx="1397.55" cy="760.44" r="2.7" fill="#000"/>
<circle cx="1408.55" cy="759.10" r="2.7" fill="#000"/>
<circle cx="1419.55" cy="759.94" r="2.7" fill="#000"/>
<rect x="1449.50" y="565.90" width="27.50" height="201.10" fill="#c4a060"/>
<line x1="1463.50" y1="565.90" x2="1463.50" y2="547.76" stroke="#111" stroke-width="1.25"/>
<line x1="1456.38" y1="547.50" x2="1470.12" y2="547.50" stroke="#111" stroke-width="1.25"/>
<circle cx="1463.25" cy="546.08" r="2.7" fill="#000"/>
<circle cx="1463.25" cy="569.26" r="2.7" fill="#000"/>
<circle cx="1463.25" cy="581.69" r="2.7" fill="#000"/>
<rect x="1477.00" y="761.62" width="27.50" height="5.38" fill="#d5d7d6"/>
<line x1="1490.50" y1="761.62" x2="1490.50" y2="760.78" stroke="#111" stroke-width="1.25"/>
<line x1="1483.88" y1="760.50" x2="1497.62" y2="760.50" stroke="#111" stroke-width="1.25"/>
<circle cx="1479.75" cy="762.12" r="2.7" fill="#000"/>
<circle cx="1490.75" cy="760.78" r="2.7" fill="#000"/>
<circle cx="1501.75" cy="761.96" r="2.7" fill="#000"/>
<rect x="1531.60" y="539.52" width="27.50" height="227.48" fill="#8f6c54"/>
<line x1="1545.50" y1="539.52" x2="1545.50" y2="532.97" stroke="#111" stroke-width="1.25"/>
<line x1="1538.47" y1="532.50" x2="1552.22" y2="532.50" stroke="#111" stroke-width="1.25"/>
<circle cx="1545.35" cy="531.80" r="2.7" fill="#000"/>
<circle cx="1540.29" cy="544.06" r="2.7" fill="#000"/>
<circle cx="1550.41" cy="542.55" r="2.7" fill="#000"/>
<rect x="1559.10" y="760.78" width="27.50" height="6.22" fill="#d5d7d6"/>
<line x1="1572.50" y1="760.78" x2="1572.50" y2="760.44" stroke="#111" stroke-width="1.25"/>
<line x1="1565.97" y1="760.50" x2="1579.72" y2="760.50" stroke="#111" stroke-width="1.25"/>
<circle cx="1561.85" cy="761.12" r="2.7" fill="#000"/>
<circle cx="1572.85" cy="760.44" r="2.7" fill="#000"/>
<circle cx="1583.85" cy="761.12" r="2.7" fill="#000"/>
<line x1="943.50" y1="515.00" x2="943.50" y2="770.00" stroke="#2b2b2b" stroke-width="1"/>
<line x1="932.00" y1="767.50" x2="1602.50" y2="767.50" stroke="#2b2b2b" stroke-width="1"/>
<text x="929.90" y="773.51" font-size="16.8" text-anchor="end" fill="#000" stroke="#000">0</text>
<line x1="932.00" y1="717.50" x2="943.50" y2="717.50" stroke="#2b2b2b" stroke-width="1"/>
<text x="929.90" y="723.11" font-size="16.8" text-anchor="end" fill="#000" stroke="#000">3</text>
<line x1="932.00" y1="666.50" x2="943.50" y2="666.50" stroke="#2b2b2b" stroke-width="1"/>
<text x="929.90" y="672.71" font-size="16.8" text-anchor="end" fill="#000" stroke="#000">6</text>
<line x1="932.00" y1="616.50" x2="943.50" y2="616.50" stroke="#2b2b2b" stroke-width="1"/>
<text x="929.90" y="622.31" font-size="16.8" text-anchor="end" fill="#000" stroke="#000">9</text>
<line x1="932.00" y1="565.50" x2="943.50" y2="565.50" stroke="#2b2b2b" stroke-width="1"/>
<text x="929.90" y="571.91" font-size="16.8" text-anchor="end" fill="#000" stroke="#000">12</text>
<line x1="932.00" y1="515.50" x2="943.50" y2="515.50" stroke="#2b2b2b" stroke-width="1"/>
<text x="929.90" y="521.51" font-size="16.8" text-anchor="end" fill="#000" stroke="#000">15</text>
<line x1="984.50" y1="767.50" x2="984.50" y2="779.00" stroke="#2b2b2b" stroke-width="1"/>
<line x1="1066.50" y1="767.50" x2="1066.50" y2="779.00" stroke="#2b2b2b" stroke-width="1"/>
<line x1="1148.50" y1="767.50" x2="1148.50" y2="779.00" stroke="#2b2b2b" stroke-width="1"/>
<line x1="1230.50" y1="767.50" x2="1230.50" y2="779.00" stroke="#2b2b2b" stroke-width="1"/>
<line x1="1312.50" y1="767.50" x2="1312.50" y2="779.00" stroke="#2b2b2b" stroke-width="1"/>
<line x1="1394.50" y1="767.50" x2="1394.50" y2="779.00" stroke="#2b2b2b" stroke-width="1"/>
<line x1="1476.50" y1="767.50" x2="1476.50" y2="779.00" stroke="#2b2b2b" stroke-width="1"/>
<line x1="1559.50" y1="767.50" x2="1559.50" y2="779.00" stroke="#2b2b2b" stroke-width="1"/>
<text x="1220.00" y="497.00" font-size="17.1" text-anchor="middle" fill="#000" stroke="#000"><tspan font-style="italic">EMX1</tspan> -34to-1 replace loxp</text>
<text x="1217.80" y="521.50" font-size="15.2" text-anchor="middle" fill="#000" stroke="#000">PBS=13 nt, HS=16 nt</text>
<text x="875.30" y="638.30" font-size="17.3" text-anchor="middle" fill="#000" stroke="#000" transform="rotate(-90 875.30 638.30)">% of total sequencing reads</text>
<text x="899.30" y="638.30" font-size="17.3" text-anchor="middle" fill="#000" stroke="#000" transform="rotate(-90 899.30 638.30)">with the specified edit or indels</text>
<rect x="1635.80" y="223.20" width="38.70" height="22.70" fill="#8ccbec"/>
<text x="1691.00" y="242.05" font-size="16.8" text-anchor="start" fill="#000" stroke="#000">PE2max</text>
<rect x="1635.80" y="284.80" width="38.70" height="22.70" fill="#4f8fbf"/>
<text x="1691.00" y="303.15" font-size="16.8" text-anchor="start" fill="#000" stroke="#000">EXPERTmax</text>
<rect x="1635.80" y="346.40" width="38.70" height="22.70" fill="#92d9d4"/>
<text x="1691.00" y="363.95" font-size="16.8" text-anchor="start" fill="#000" stroke="#000">PE3max</text>
<rect x="1635.80" y="408.20" width="38.70" height="22.70" fill="#3f8f7f"/>
<text x="1740.50" y="413.55" font-size="16.8" text-anchor="middle" fill="#000" stroke="#000">EXPERTmax</text>
<text x="1740.50" y="433.55" font-size="16.8" text-anchor="middle" fill="#000" stroke="#000">+nicking sgRNA</text>
<rect x="1635.80" y="469.80" width="38.70" height="22.70" fill="#92a3d4"/>
<text x="1691.00" y="486.05" font-size="16.8" text-anchor="start" fill="#000" stroke="#000">PE4max</text>
<rect x="1635.80" y="531.70" width="38.70" height="22.70" fill="#70549f"/>
<text x="1737.90" y="535.05" font-size="16.8" text-anchor="middle" fill="#000" stroke="#000">EXPERTmax</text>
<text x="1737.90" y="555.05" font-size="16.8" text-anchor="middle" fill="#000" stroke="#000">+MLH1dn</text>
<rect x="1635.80" y="593.30" width="38.70" height="22.70" fill="#c4a060"/>
<text x="1691.00" y="610.05" font-size="16.8" text-anchor="start" fill="#000" stroke="#000">PE5max</text>
<rect x="1635.80" y="655.20" width="38.70" height="22.70" fill="#8f6c54"/>
<text x="1740.50" y="657.05" font-size="16.8" text-anchor="middle" fill="#000" stroke="#000">EXPERTmax</text>
<text x="1740.50" y="677.05" font-size="16.8" text-anchor="middle" fill="#000" stroke="#000">+nicking sgRNA</text>
<text x="1740.50" y="697.05" font-size="16.8" text-anchor="middle" fill="#000" stroke="#000">+MLH1dn</text>
<rect x="1635.80" y="719.30" width="38.70" height="22.70" fill="#d5d7d6"/>
<text x="1691.00" y="738.15" font-size="16.8" text-anchor="start" fill="#000" stroke="#000">indels</text>
<rect x="48.70" y="817.00" width="32.80" height="20.00" fill="#5bb2e0"/>
<rect x="206.80" y="817.00" width="32.50" height="20.00" fill="#d5d7d6"/>
<text x="86.50" y="833.80" font-size="16.4" text-anchor="start" fill="#000" stroke="#000">intended edits</text>
<text x="244.60" y="833.80" font-size="16.4" text-anchor="start" fill="#000" stroke="#000">indels</text>
<rect x="698.50" y="817.00" width="32.80" height="20.00" fill="#4fb09c"/>
<rect x="856.50" y="817.00" width="32.50" height="20.00" fill="#d5d7d6"/>
<text x="736.70" y="833.80" font-size="16.4" text-anchor="start" fill="#000" stroke="#000">intended edits</text>
<text x="894.40" y="833.80" font-size="16.4" text-anchor="start" fill="#000" stroke="#000">indels</text>
<rect x="1330.50" y="817.00" width="32.80" height="20.00" fill="#7a5cad"/>
<rect x="1487.00" y="817.00" width="32.50" height="20.00" fill="#d5d7d6"/>
<text x="1368.00" y="833.80" font-size="16.4" text-anchor="start" fill="#000" stroke="#000">intended edits</text>
<text x="1524.60" y="833.80" font-size="16.4" text-anchor="start" fill="#000" stroke="#000">indels</text>
<rect x="86.10" y="1103.86" width="29.40" height="7.14" fill="#5bb2e0"/>
<line x1="100.50" y1="1103.86" x2="100.50" y2="1102.19" stroke="#111" stroke-width="1.25"/>
<line x1="93.45" y1="1102.50" x2="108.15" y2="1102.50" stroke="#111" stroke-width="1.25"/>
<circle cx="92.60" cy="1105.53" r="2.15" fill="#000"/>
<circle cx="100.80" cy="1102.19" r="2.15" fill="#000"/>
<circle cx="109.00" cy="1103.86" r="2.15" fill="#000"/>
<rect x="115.50" y="1094.52" width="29.40" height="16.48" fill="#d5d7d6"/>
<line x1="130.50" y1="1094.52" x2="130.50" y2="1091.18" stroke="#111" stroke-width="1.25"/>
<line x1="122.85" y1="1091.50" x2="137.55" y2="1091.50" stroke="#111" stroke-width="1.25"/>
<circle cx="122.82" cy="1092.51" r="2.15" fill="#000"/>
<circle cx="124.46" cy="1097.19" r="2.15" fill="#000"/>
<circle cx="135.12" cy="1093.52" r="2.15" fill="#000"/>
<rect x="174.60" y="952.71" width="29.40" height="158.29" fill="#5bb2e0"/>
<line x1="189.50" y1="952.71" x2="189.50" y2="943.37" stroke="#111" stroke-width="1.25"/>
<line x1="181.95" y1="943.50" x2="196.65" y2="943.50" stroke="#111" stroke-width="1.25"/>
<circle cx="189.30" cy="942.70" r="2.15" fill="#000"/>
<circle cx="189.30" cy="952.71" r="2.15" fill="#000"/>
<circle cx="189.30" cy="961.05" r="2.15" fill="#000"/>
<rect x="204.00" y="1059.48" width="29.40" height="51.52" fill="#d5d7d6"/>
<line x1="218.50" y1="1059.48" x2="218.50" y2="1052.81" stroke="#111" stroke-width="1.25"/>
<line x1="211.35" y1="1052.50" x2="226.05" y2="1052.50" stroke="#111" stroke-width="1.25"/>
<circle cx="214.60" cy="1054.48" r="2.15" fill="#000"/>
<circle cx="218.70" cy="1066.15" r="2.15" fill="#000"/>
<circle cx="222.80" cy="1056.14" r="2.15" fill="#000"/>
<line x1="72.50" y1="910.00" x2="72.50" y2="1114.00" stroke="#2b2b2b" stroke-width="1"/>
<line x1="63.60" y1="1111.50" x2="248.00" y2="1111.50" stroke="#2b2b2b" stroke-width="1"/>
<text x="60.40" y="1116.71" font-size="15.4" text-anchor="end" fill="#000" stroke="#000">0</text>
<line x1="63.60" y1="1044.50" x2="72.50" y2="1044.50" stroke="#2b2b2b" stroke-width="1"/>
<text x="60.40" y="1049.98" font-size="15.4" text-anchor="end" fill="#000" stroke="#000">2</text>
<line x1="63.60" y1="977.50" x2="72.50" y2="977.50" stroke="#2b2b2b" stroke-width="1"/>
<text x="60.40" y="983.25" font-size="15.4" text-anchor="end" fill="#000" stroke="#000">4</text>
<line x1="63.60" y1="910.50" x2="72.50" y2="910.50" stroke="#2b2b2b" stroke-width="1"/>
<text x="60.40" y="916.51" font-size="15.4" text-anchor="end" fill="#000" stroke="#000">6</text>
<line x1="115.50" y1="1111.50" x2="115.50" y2="1119.50" stroke="#2b2b2b" stroke-width="1"/>
<line x1="204.50" y1="1111.50" x2="204.50" y2="1119.50" stroke="#2b2b2b" stroke-width="1"/>
<text x="160.00" y="872.70" font-size="17.2" text-anchor="middle" fill="#000" stroke="#000"><tspan font-style="italic">CETP</tspan> -19 Flag ins, K562</text>
<text x="152.00" y="899.70" font-size="15.2" text-anchor="middle" fill="#000" stroke="#000">PBS=15 nt, HS=15 nt</text>
<text x="25.40" y="1015.10" font-size="15.6" text-anchor="middle" fill="#000" stroke="#000" transform="rotate(-90 25.40 1015.10)">% of total sequencing reads</text>
<text x="44.40" y="1015.10" font-size="15.6" text-anchor="middle" fill="#000" stroke="#000" transform="rotate(-90 44.40 1015.10)">with the specified edit or indels</text>
<text x="118.50" y="1137.00" font-size="15.0" text-anchor="middle" fill="#000" stroke="#000">PE2max</text>
<text x="208.50" y="1137.00" font-size="15.0" text-anchor="middle" fill="#000" stroke="#000">EXPERTmax</text>
<rect x="379.50" y="1091.18" width="28.20" height="19.82" fill="#5bb2e0"/>
<line x1="393.50" y1="1091.18" x2="393.50" y2="1089.51" stroke="#111" stroke-width="1.25"/>
<line x1="386.55" y1="1089.50" x2="400.65" y2="1089.50" stroke="#111" stroke-width="1.25"/>
<circle cx="385.40" cy="1093.18" r="2.15" fill="#000"/>
<circle cx="393.60" cy="1089.18" r="2.15" fill="#000"/>
<circle cx="401.80" cy="1091.18" r="2.15" fill="#000"/>
<rect x="407.70" y="1105.53" width="28.20" height="5.47" fill="#d5d7d6"/>
<line x1="414.75" y1="1105.50" x2="428.85" y2="1105.50" stroke="#111" stroke-width="1.25"/>
<circle cx="413.60" cy="1105.73" r="2.15" fill="#000"/>
<circle cx="421.80" cy="1105.46" r="2.15" fill="#000"/>
<circle cx="430.00" cy="1105.53" r="2.15" fill="#000"/>
<rect x="464.50" y="919.68" width="28.20" height="191.32" fill="#5bb2e0"/>
<line x1="478.50" y1="919.68" x2="478.50" y2="917.01" stroke="#111" stroke-width="1.25"/>
<line x1="471.55" y1="917.50" x2="485.65" y2="917.50" stroke="#111" stroke-width="1.25"/>
<circle cx="473.68" cy="917.01" r="2.15" fill="#000"/>
<circle cx="474.50" cy="921.68" r="2.15" fill="#000"/>
<circle cx="482.70" cy="921.01" r="2.15" fill="#000"/>
<rect x="492.70" y="1096.52" width="28.20" height="14.48" fill="#d5d7d6"/>
<line x1="506.50" y1="1096.52" x2="506.50" y2="1095.85" stroke="#111" stroke-width="1.25"/>
<line x1="499.75" y1="1095.50" x2="513.85" y2="1095.50" stroke="#111" stroke-width="1.25"/>
<circle cx="498.60" cy="1097.19" r="2.15" fill="#000"/>
<circle cx="506.80" cy="1095.85" r="2.15" fill="#000"/>
<circle cx="515.00" cy="1096.52" r="2.15" fill="#000"/>
<line x1="365.50" y1="910.00" x2="365.50" y2="1114.00" stroke="#2b2b2b" stroke-width="1"/>
<line x1="356.60" y1="1111.50" x2="535.90" y2="1111.50" stroke="#2b2b2b" stroke-width="1"/>
<text x="353.60" y="1116.71" font-size="15.4" text-anchor="end" fill="#000" stroke="#000">0</text>
<line x1="356.60" y1="1044.50" x2="365.50" y2="1044.50" stroke="#2b2b2b" stroke-width="1"/>
<text x="353.60" y="1049.98" font-size="15.4" text-anchor="end" fill="#000" stroke="#000">10</text>
<line x1="356.60" y1="977.50" x2="365.50" y2="977.50" stroke="#2b2b2b" stroke-width="1"/>
<text x="353.60" y="983.25" font-size="15.4" text-anchor="end" fill="#000" stroke="#000">20</text>
<line x1="356.60" y1="910.50" x2="365.50" y2="910.50" stroke="#2b2b2b" stroke-width="1"/>
<text x="353.60" y="916.51" font-size="15.4" text-anchor="end" fill="#000" stroke="#000">30</text>
<line x1="407.50" y1="1111.50" x2="407.50" y2="1119.50" stroke="#2b2b2b" stroke-width="1"/>
<line x1="492.50" y1="1111.50" x2="492.50" y2="1119.50" stroke="#2b2b2b" stroke-width="1"/>
<text x="439.40" y="872.70" font-size="17.2" text-anchor="middle" fill="#000" stroke="#000"><tspan font-style="italic">GFAP</tspan> -43to-1 replace extended loxp, K562</text>
<text x="440.60" y="899.70" font-size="15.2" text-anchor="middle" fill="#000" stroke="#000">PBS=13 nt, HS=14 nt</text>
<text x="311.70" y="1015.10" font-size="15.6" text-anchor="middle" fill="#000" stroke="#000" transform="rotate(-90 311.70 1015.10)">% of total sequencing reads</text>
<text x="330.40" y="1015.10" font-size="15.6" text-anchor="middle" fill="#000" stroke="#000" transform="rotate(-90 330.40 1015.10)">with the specified edit or indels</text>
<text x="410.70" y="1137.00" font-size="15.0" text-anchor="middle" fill="#000" stroke="#000">PE2max</text>
<text x="497.20" y="1137.00" font-size="15.0" text-anchor="middle" fill="#000" stroke="#000">EXPERTmax</text>
<rect x="737.80" y="1110.72" width="29.40" height="2.28" fill="#4fb09c"/>
<line x1="752.50" y1="1110.72" x2="752.50" y2="1110.38" stroke="#111" stroke-width="1.25"/>
<line x1="745.15" y1="1110.50" x2="759.85" y2="1110.50" stroke="#111" stroke-width="1.25"/>
<circle cx="744.30" cy="1111.06" r="2.15" fill="#000"/>
<circle cx="752.50" cy="1110.38" r="2.15" fill="#000"/>
<circle cx="760.70" cy="1110.72" r="2.15" fill="#000"/>
<rect x="767.20" y="1100.17" width="29.40" height="12.83" fill="#d5d7d6"/>
<line x1="781.50" y1="1100.17" x2="781.50" y2="1099.83" stroke="#111" stroke-width="1.25"/>
<line x1="774.55" y1="1099.50" x2="789.25" y2="1099.50" stroke="#111" stroke-width="1.25"/>
<circle cx="773.70" cy="1100.51" r="2.15" fill="#000"/>
<circle cx="781.90" cy="1099.83" r="2.15" fill="#000"/>
<circle cx="790.10" cy="1100.17" r="2.15" fill="#000"/>
<rect x="825.60" y="1004.25" width="29.40" height="108.75" fill="#4fb09c"/>
<line x1="840.50" y1="1004.25" x2="840.50" y2="992.34" stroke="#111" stroke-width="1.25"/>
<line x1="832.95" y1="992.50" x2="847.65" y2="992.50" stroke="#111" stroke-width="1.25"/>
<circle cx="836.20" cy="995.74" r="2.15" fill="#000"/>
<circle cx="840.30" cy="1016.15" r="2.15" fill="#000"/>
<circle cx="844.40" cy="999.14" r="2.15" fill="#000"/>
<rect x="855.00" y="1039.96" width="29.40" height="73.04" fill="#d5d7d6"/>
<line x1="869.50" y1="1039.96" x2="869.50" y2="1035.88" stroke="#111" stroke-width="1.25"/>
<line x1="862.35" y1="1035.50" x2="877.05" y2="1035.50" stroke="#111" stroke-width="1.25"/>
<circle cx="865.60" cy="1037.58" r="2.15" fill="#000"/>
<circle cx="869.70" cy="1045.07" r="2.15" fill="#000"/>
<circle cx="873.80" cy="1037.58" r="2.15" fill="#000"/>
<line x1="723.50" y1="908.00" x2="723.50" y2="1116.00" stroke="#2b2b2b" stroke-width="1"/>
<line x1="714.60" y1="1113.50" x2="899.40" y2="1113.50" stroke="#2b2b2b" stroke-width="1"/>
<text x="711.30" y="1118.61" font-size="15.4" text-anchor="end" fill="#000" stroke="#000">0</text>
<line x1="714.60" y1="1045.50" x2="723.50" y2="1045.50" stroke="#2b2b2b" stroke-width="1"/>
<text x="711.30" y="1050.58" font-size="15.4" text-anchor="end" fill="#000" stroke="#000">2</text>
<line x1="714.60" y1="977.50" x2="723.50" y2="977.50" stroke="#2b2b2b" stroke-width="1"/>
<text x="711.30" y="982.55" font-size="15.4" text-anchor="end" fill="#000" stroke="#000">4</text>
<line x1="714.60" y1="908.50" x2="723.50" y2="908.50" stroke="#2b2b2b" stroke-width="1"/>
<text x="711.30" y="914.51" font-size="15.4" text-anchor="end" fill="#000" stroke="#000">6</text>
<line x1="767.50" y1="1113.50" x2="767.50" y2="1121.50" stroke="#2b2b2b" stroke-width="1"/>
<line x1="854.50" y1="1113.50" x2="854.50" y2="1121.50" stroke="#2b2b2b" stroke-width="1"/>
<text x="813.20" y="872.70" font-size="17.2" text-anchor="middle" fill="#000" stroke="#000"><tspan font-style="italic">EMX1</tspan> -17 Flag ins, Jurkat</text>
<text x="804.00" y="899.70" font-size="15.2" text-anchor="middle" fill="#000" stroke="#000">PBS=13 nt, HS=16 nt</text>
<text x="676.50" y="1015.05" font-size="15.6" text-anchor="middle" fill="#000" stroke="#000" transform="rotate(-90 676.50 1015.05)">% of total sequencing reads</text>
<text x="695.80" y="1015.05" font-size="15.6" text-anchor="middle" fill="#000" stroke="#000" transform="rotate(-90 695.80 1015.05)">with the specified edit or indels</text>
<text x="770.90" y="1137.00" font-size="15.0" text-anchor="middle" fill="#000" stroke="#000">PE2max</text>
<text x="857.20" y="1137.00" font-size="15.0" text-anchor="middle" fill="#000" stroke="#000">EXPERTmax</text>
<rect x="1025.40" y="1055.95" width="29.40" height="57.05" fill="#4fb09c"/>
<line x1="1040.50" y1="1055.95" x2="1040.50" y2="1049.49" stroke="#111" stroke-width="1.25"/>
<line x1="1032.75" y1="1049.50" x2="1047.45" y2="1049.50" stroke="#111" stroke-width="1.25"/>
<circle cx="1040.10" cy="1049.49" r="2.15" fill="#000"/>
<circle cx="1040.10" cy="1058.67" r="2.15" fill="#000"/>
<circle cx="1040.10" cy="1062.07" r="2.15" fill="#000"/>
<rect x="1054.80" y="1062.76" width="29.40" height="50.24" fill="#d5d7d6"/>
<line x1="1069.50" y1="1062.76" x2="1069.50" y2="1062.42" stroke="#111" stroke-width="1.25"/>
<line x1="1062.15" y1="1062.50" x2="1076.85" y2="1062.50" stroke="#111" stroke-width="1.25"/>
<circle cx="1061.30" cy="1063.10" r="2.15" fill="#000"/>
<circle cx="1069.50" cy="1062.42" r="2.15" fill="#000"/>
<circle cx="1077.70" cy="1062.76" r="2.15" fill="#000"/>
<rect x="1113.50" y="947.10" width="29.40" height="165.90" fill="#4fb09c"/>
<line x1="1128.50" y1="947.10" x2="1128.50" y2="932.81" stroke="#111" stroke-width="1.25"/>
<line x1="1120.85" y1="932.50" x2="1135.55" y2="932.50" stroke="#111" stroke-width="1.25"/>
<circle cx="1128.20" cy="931.11" r="2.15" fill="#000"/>
<circle cx="1128.20" cy="953.22" r="2.15" fill="#000"/>
<circle cx="1128.20" cy="957.30" r="2.15" fill="#000"/>
<rect x="1142.90" y="1067.18" width="29.40" height="45.82" fill="#d5d7d6"/>
<line x1="1157.50" y1="1067.18" x2="1157.50" y2="1064.46" stroke="#111" stroke-width="1.25"/>
<line x1="1150.25" y1="1064.50" x2="1164.95" y2="1064.50" stroke="#111" stroke-width="1.25"/>
<circle cx="1153.50" cy="1064.80" r="2.15" fill="#000"/>
<circle cx="1153.50" cy="1069.90" r="2.15" fill="#000"/>
<circle cx="1161.70" cy="1067.18" r="2.15" fill="#000"/>
<line x1="1011.50" y1="908.00" x2="1011.50" y2="1116.00" stroke="#2b2b2b" stroke-width="1"/>
<line x1="1002.60" y1="1113.50" x2="1187.00" y2="1113.50" stroke="#2b2b2b" stroke-width="1"/>
<text x="999.20" y="1118.61" font-size="15.4" text-anchor="end" fill="#000" stroke="#000">0</text>
<line x1="1002.60" y1="1045.50" x2="1011.50" y2="1045.50" stroke="#2b2b2b" stroke-width="1"/>
<text x="999.20" y="1050.58" font-size="15.4" text-anchor="end" fill="#000" stroke="#000">2</text>
<line x1="1002.60" y1="977.50" x2="1011.50" y2="977.50" stroke="#2b2b2b" stroke-width="1"/>
<text x="999.20" y="982.55" font-size="15.4" text-anchor="end" fill="#000" stroke="#000">4</text>
<line x1="1002.60" y1="908.50" x2="1011.50" y2="908.50" stroke="#2b2b2b" stroke-width="1"/>
<text x="999.20" y="914.51" font-size="15.4" text-anchor="end" fill="#000" stroke="#000">6</text>
<line x1="1054.50" y1="1113.50" x2="1054.50" y2="1121.50" stroke="#2b2b2b" stroke-width="1"/>
<line x1="1142.50" y1="1113.50" x2="1142.50" y2="1121.50" stroke="#2b2b2b" stroke-width="1"/>
<text x="1103.00" y="872.70" font-size="17.2" text-anchor="middle" fill="#000" stroke="#000"><tspan font-style="italic">LMNA</tspan> -35to-1 del 35bp, Jurkat</text>
<text x="1086.90" y="899.70" font-size="15.2" text-anchor="middle" fill="#000" stroke="#000">PBS=10 nt, HS=21 nt</text>
<text x="963.60" y="1015.05" font-size="15.6" text-anchor="middle" fill="#000" stroke="#000" transform="rotate(-90 963.60 1015.05)">% of total sequencing reads</text>
<text x="982.60" y="1015.05" font-size="15.6" text-anchor="middle" fill="#000" stroke="#000" transform="rotate(-90 982.60 1015.05)">with the specified edit or indels</text>
<text x="1057.20" y="1137.00" font-size="15.0" text-anchor="middle" fill="#000" stroke="#000">PE2max</text>
<text x="1143.60" y="1137.00" font-size="15.0" text-anchor="middle" fill="#000" stroke="#000">EXPERTmax</text>
<rect x="1370.90" y="1076.74" width="29.20" height="34.26" fill="#7a5cad"/>
<line x1="1385.50" y1="1076.74" x2="1385.50" y2="1070.12" stroke="#111" stroke-width="1.25"/>
<line x1="1378.20" y1="1070.50" x2="1392.80" y2="1070.50" stroke="#111" stroke-width="1.25"/>
<circle cx="1381.40" cy="1071.78" r="2.15" fill="#000"/>
<circle cx="1385.50" cy="1084.03" r="2.15" fill="#000"/>
<circle cx="1389.60" cy="1073.43" r="2.15" fill="#000"/>
<rect x="1400.10" y="969.83" width="29.20" height="141.17" fill="#d5d7d6"/>
<line x1="1414.50" y1="969.83" x2="1414.50" y2="951.63" stroke="#111" stroke-width="1.25"/>
<line x1="1407.40" y1="951.50" x2="1422.00" y2="951.50" stroke="#111" stroke-width="1.25"/>
<circle cx="1414.70" cy="950.97" r="2.15" fill="#000"/>
<circle cx="1414.70" cy="972.48" r="2.15" fill="#000"/>
<circle cx="1414.70" cy="986.38" r="2.15" fill="#000"/>
<rect x="1458.30" y="990.02" width="29.20" height="120.98" fill="#7a5cad"/>
<line x1="1472.50" y1="990.02" x2="1472.50" y2="986.71" stroke="#111" stroke-width="1.25"/>
<line x1="1465.60" y1="986.50" x2="1480.20" y2="986.50" stroke="#111" stroke-width="1.25"/>
<circle cx="1468.80" cy="991.68" r="2.15" fill="#000"/>
<circle cx="1472.90" cy="987.38" r="2.15" fill="#000"/>
<circle cx="1477.00" cy="991.68" r="2.15" fill="#000"/>
<rect x="1487.50" y="989.69" width="29.20" height="121.31" fill="#d5d7d6"/>
<line x1="1502.50" y1="989.69" x2="1502.50" y2="979.10" stroke="#111" stroke-width="1.25"/>
<line x1="1494.80" y1="979.50" x2="1509.40" y2="979.50" stroke="#111" stroke-width="1.25"/>
<circle cx="1502.10" cy="980.75" r="2.15" fill="#000"/>
<circle cx="1502.10" cy="987.38" r="2.15" fill="#000"/>
<circle cx="1502.10" cy="1002.27" r="2.15" fill="#000"/>
<line x1="1356.50" y1="912.00" x2="1356.50" y2="1114.00" stroke="#2b2b2b" stroke-width="1"/>
<line x1="1347.60" y1="1111.50" x2="1532.30" y2="1111.50" stroke="#2b2b2b" stroke-width="1"/>
<text x="1344.50" y="1117.01" font-size="15.4" text-anchor="end" fill="#000" stroke="#000">0</text>
<line x1="1347.60" y1="1045.50" x2="1356.50" y2="1045.50" stroke="#2b2b2b" stroke-width="1"/>
<text x="1344.50" y="1050.81" font-size="15.4" text-anchor="end" fill="#000" stroke="#000">2</text>
<line x1="1347.60" y1="979.50" x2="1356.50" y2="979.50" stroke="#2b2b2b" stroke-width="1"/>
<text x="1344.50" y="984.61" font-size="15.4" text-anchor="end" fill="#000" stroke="#000">4</text>
<line x1="1347.60" y1="912.50" x2="1356.50" y2="912.50" stroke="#2b2b2b" stroke-width="1"/>
<text x="1344.50" y="918.41" font-size="15.4" text-anchor="end" fill="#000" stroke="#000">6</text>
<line x1="1400.50" y1="1111.50" x2="1400.50" y2="1119.50" stroke="#2b2b2b" stroke-width="1"/>
<line x1="1487.50" y1="1111.50" x2="1487.50" y2="1119.50" stroke="#2b2b2b" stroke-width="1"/>
<text x="1431.80" y="872.70" font-size="17.2" text-anchor="middle" fill="#000" stroke="#000"><tspan font-style="italic">CETP</tspan> -19 Flag ins, Hela</text>
<text x="1430.60" y="899.70" font-size="15.2" text-anchor="middle" fill="#000" stroke="#000">PBS=15 nt, HS=15 nt</text>
<text x="1309.70" y="1016.20" font-size="15.6" text-anchor="middle" fill="#000" stroke="#000" transform="rotate(-90 1309.70 1016.20)">% of total sequencing reads</text>
<text x="1329.10" y="1016.20" font-size="15.6" text-anchor="middle" fill="#000" stroke="#000" transform="rotate(-90 1329.10 1016.20)">with the specified edit or indels</text>
<text x="1403.10" y="1137.00" font-size="15.0" text-anchor="middle" fill="#000" stroke="#000">PE2max</text>
<text x="1492.30" y="1137.00" font-size="15.0" text-anchor="middle" fill="#000" stroke="#000">EXPERTmax</text>
<rect x="1662.30" y="1059.20" width="29.20" height="51.80" fill="#7a5cad"/>
<line x1="1676.50" y1="1059.20" x2="1676.50" y2="1041.33" stroke="#111" stroke-width="1.25"/>
<line x1="1669.60" y1="1041.50" x2="1684.20" y2="1041.50" stroke="#111" stroke-width="1.25"/>
<circle cx="1676.90" cy="1040.67" r="2.15" fill="#000"/>
<circle cx="1676.90" cy="1059.20" r="2.15" fill="#000"/>
<circle cx="1676.90" cy="1077.08" r="2.15" fill="#000"/>
<rect x="1691.50" y="1082.37" width="29.20" height="28.63" fill="#d5d7d6"/>
<line x1="1706.50" y1="1082.37" x2="1706.50" y2="1071.78" stroke="#111" stroke-width="1.25"/>
<line x1="1698.80" y1="1071.50" x2="1713.40" y2="1071.50" stroke="#111" stroke-width="1.25"/>
<circle cx="1706.10" cy="1073.10" r="2.15" fill="#000"/>
<circle cx="1706.10" cy="1081.05" r="2.15" fill="#000"/>
<circle cx="1706.10" cy="1092.96" r="2.15" fill="#000"/>
<rect x="1749.70" y="966.52" width="29.20" height="144.48" fill="#7a5cad"/>
<line x1="1764.50" y1="966.52" x2="1764.50" y2="940.04" stroke="#111" stroke-width="1.25"/>
<line x1="1757.00" y1="940.50" x2="1771.60" y2="940.50" stroke="#111" stroke-width="1.25"/>
<circle cx="1764.30" cy="937.39" r="2.15" fill="#000"/>
<circle cx="1764.30" cy="973.80" r="2.15" fill="#000"/>
<circle cx="1764.30" cy="989.03" r="2.15" fill="#000"/>
<rect x="1778.90" y="1077.08" width="29.20" height="33.92" fill="#d5d7d6"/>
<line x1="1793.50" y1="1077.08" x2="1793.50" y2="1073.10" stroke="#111" stroke-width="1.25"/>
<line x1="1786.20" y1="1073.50" x2="1800.80" y2="1073.50" stroke="#111" stroke-width="1.25"/>
<circle cx="1788.58" cy="1079.72" r="2.15" fill="#000"/>
<circle cx="1792.68" cy="1073.10" r="2.15" fill="#000"/>
<circle cx="1798.42" cy="1078.40" r="2.15" fill="#000"/>
<line x1="1647.50" y1="912.00" x2="1647.50" y2="1114.00" stroke="#2b2b2b" stroke-width="1"/>
<line x1="1638.60" y1="1111.50" x2="1823.30" y2="1111.50" stroke="#2b2b2b" stroke-width="1"/>
<text x="1635.90" y="1117.01" font-size="15.4" text-anchor="end" fill="#000" stroke="#000">0</text>
<line x1="1638.60" y1="1045.50" x2="1647.50" y2="1045.50" stroke="#2b2b2b" stroke-width="1"/>
<text x="1635.90" y="1050.81" font-size="15.4" text-anchor="end" fill="#000" stroke="#000">1</text>
<line x1="1638.60" y1="979.50" x2="1647.50" y2="979.50" stroke="#2b2b2b" stroke-width="1"/>
<text x="1635.90" y="984.61" font-size="15.4" text-anchor="end" fill="#000" stroke="#000">2</text>
<line x1="1638.60" y1="912.50" x2="1647.50" y2="912.50" stroke="#2b2b2b" stroke-width="1"/>
<text x="1635.90" y="918.41" font-size="15.4" text-anchor="end" fill="#000" stroke="#000">3</text>
<line x1="1691.50" y1="1111.50" x2="1691.50" y2="1119.50" stroke="#2b2b2b" stroke-width="1"/>
<line x1="1778.50" y1="1111.50" x2="1778.50" y2="1119.50" stroke="#2b2b2b" stroke-width="1"/>
<text x="1708.50" y="872.70" font-size="17.2" text-anchor="middle" fill="#000" stroke="#000"><tspan font-style="italic">GFAP</tspan> -43to-1 replace extended loxp, Hela</text>
<text x="1726.70" y="899.70" font-size="15.2" text-anchor="middle" fill="#000" stroke="#000">PBS=13 nt, HS=14 nt</text>
<text x="1601.50" y="1016.20" font-size="15.6" text-anchor="middle" fill="#000" stroke="#000" transform="rotate(-90 1601.50 1016.20)">% of total sequencing reads</text>
<text x="1620.80" y="1016.20" font-size="15.6" text-anchor="middle" fill="#000" stroke="#000" transform="rotate(-90 1620.80 1016.20)">with the specified edit or indels</text>
<text x="1694.50" y="1137.00" font-size="15.0" text-anchor="middle" fill="#000" stroke="#000">PE2max</text>
<text x="1783.40" y="1137.00" font-size="15.0" text-anchor="middle" fill="#000" stroke="#000">EXPERTmax</text>
<rect x="92.40" y="1412.53" width="28.60" height="12.47" fill="#5bb2e0"/>
<line x1="106.50" y1="1412.53" x2="106.50" y2="1411.87" stroke="#111" stroke-width="1.25"/>
<line x1="99.55" y1="1411.50" x2="113.85" y2="1411.50" stroke="#111" stroke-width="1.25"/>
<circle cx="98.50" cy="1412.87" r="2.15" fill="#000"/>
<circle cx="106.70" cy="1411.87" r="2.15" fill="#000"/>
<circle cx="114.90" cy="1412.20" r="2.15" fill="#000"/>
<rect x="121.00" y="1421.89" width="28.60" height="3.11" fill="#d5d7d6"/>
<line x1="128.15" y1="1421.50" x2="142.45" y2="1421.50" stroke="#111" stroke-width="1.25"/>
<circle cx="127.10" cy="1422.02" r="2.15" fill="#000"/>
<circle cx="135.30" cy="1421.76" r="2.15" fill="#000"/>
<circle cx="143.50" cy="1421.89" r="2.15" fill="#000"/>
<rect x="177.00" y="1257.48" width="28.60" height="167.52" fill="#5bb2e0"/>
<line x1="191.50" y1="1257.48" x2="191.50" y2="1240.10" stroke="#111" stroke-width="1.25"/>
<line x1="184.15" y1="1240.50" x2="198.45" y2="1240.50" stroke="#111" stroke-width="1.25"/>
<circle cx="191.30" cy="1237.43" r="2.15" fill="#000"/>
<circle cx="195.40" cy="1265.50" r="2.15" fill="#000"/>
<circle cx="187.20" cy="1268.84" r="2.15" fill="#000"/>
<rect x="205.60" y="1417.21" width="28.60" height="7.79" fill="#d5d7d6"/>
<line x1="219.50" y1="1417.21" x2="219.50" y2="1416.54" stroke="#111" stroke-width="1.25"/>
<line x1="212.75" y1="1416.50" x2="227.05" y2="1416.50" stroke="#111" stroke-width="1.25"/>
<circle cx="211.70" cy="1418.21" r="2.15" fill="#000"/>
<circle cx="219.90" cy="1416.54" r="2.15" fill="#000"/>
<circle cx="228.10" cy="1416.54" r="2.15" fill="#000"/>
<line x1="78.50" y1="1225.00" x2="78.50" y2="1428.00" stroke="#2b2b2b" stroke-width="1"/>
<line x1="69.60" y1="1425.50" x2="248.00" y2="1425.50" stroke="#2b2b2b" stroke-width="1"/>
<text x="66.60" y="1431.41" font-size="15.4" text-anchor="end" fill="#000" stroke="#000">0</text>
<line x1="69.60" y1="1359.50" x2="78.50" y2="1359.50" stroke="#2b2b2b" stroke-width="1"/>
<text x="66.60" y="1364.58" font-size="15.4" text-anchor="end" fill="#000" stroke="#000">10</text>
<line x1="69.60" y1="1292.50" x2="78.50" y2="1292.50" stroke="#2b2b2b" stroke-width="1"/>
<text x="66.60" y="1297.75" font-size="15.4" text-anchor="end" fill="#000" stroke="#000">20</text>
<line x1="69.60" y1="1225.50" x2="78.50" y2="1225.50" stroke="#2b2b2b" stroke-width="1"/>
<text x="66.60" y="1230.91" font-size="15.4" text-anchor="end" fill="#000" stroke="#000">30</text>
<line x1="120.50" y1="1425.50" x2="120.50" y2="1433.50" stroke="#2b2b2b" stroke-width="1"/>
<line x1="205.50" y1="1425.50" x2="205.50" y2="1433.50" stroke="#2b2b2b" stroke-width="1"/>
<text x="152.70" y="1185.60" font-size="17.2" text-anchor="middle" fill="#000" stroke="#000"><tspan font-style="italic">EMX1</tspan> -17 Flag ins, K562</text>
<text x="155.70" y="1216.00" font-size="15.2" text-anchor="middle" fill="#000" stroke="#000">PBS=13 nt, HS=16 nt</text>
<text x="25.60" y="1329.65" font-size="15.6" text-anchor="middle" fill="#000" stroke="#000" transform="rotate(-90 25.60 1329.65)">% of total sequencing reads</text>
<text x="44.10" y="1329.65" font-size="15.6" text-anchor="middle" fill="#000" stroke="#000" transform="rotate(-90 44.10 1329.65)">with the specified edit or indels</text>
<text x="124.00" y="1451.40" font-size="15.0" text-anchor="middle" fill="#000" stroke="#000">PE2max</text>
<text x="210.10" y="1451.40" font-size="15.0" text-anchor="middle" fill="#000" stroke="#000">EXPERTmax</text>
<rect x="379.50" y="1416.54" width="28.20" height="8.46" fill="#5bb2e0"/>
<line x1="393.50" y1="1416.54" x2="393.50" y2="1416.14" stroke="#111" stroke-width="1.25"/>
<line x1="386.55" y1="1416.50" x2="400.65" y2="1416.50" stroke="#111" stroke-width="1.25"/>
<circle cx="385.40" cy="1417.21" r="2.15" fill="#000"/>
<circle cx="393.60" cy="1416.14" r="2.15" fill="#000"/>
<circle cx="401.80" cy="1416.54" r="2.15" fill="#000"/>
<rect x="407.70" y="1422.29" width="28.20" height="2.71" fill="#d5d7d6"/>
<line x1="414.75" y1="1422.50" x2="428.85" y2="1422.50" stroke="#111" stroke-width="1.25"/>
<circle cx="413.60" cy="1422.42" r="2.15" fill="#000"/>
<circle cx="421.80" cy="1422.16" r="2.15" fill="#000"/>
<circle cx="430.00" cy="1422.29" r="2.15" fill="#000"/>
<rect x="464.60" y="1255.48" width="28.20" height="169.52" fill="#5bb2e0"/>
<line x1="478.50" y1="1255.48" x2="478.50" y2="1250.13" stroke="#111" stroke-width="1.25"/>
<line x1="471.65" y1="1250.50" x2="485.75" y2="1250.50" stroke="#111" stroke-width="1.25"/>
<circle cx="478.70" cy="1250.13" r="2.15" fill="#000"/>
<circle cx="474.60" cy="1258.82" r="2.15" fill="#000"/>
<circle cx="482.80" cy="1257.48" r="2.15" fill="#000"/>
<rect x="492.80" y="1422.29" width="28.20" height="2.71" fill="#d5d7d6"/>
<line x1="499.85" y1="1422.50" x2="513.95" y2="1422.50" stroke="#111" stroke-width="1.25"/>
<circle cx="498.70" cy="1422.42" r="2.15" fill="#000"/>
<circle cx="506.90" cy="1422.16" r="2.15" fill="#000"/>
<circle cx="515.10" cy="1422.29" r="2.15" fill="#000"/>
<line x1="365.50" y1="1225.00" x2="365.50" y2="1428.00" stroke="#2b2b2b" stroke-width="1"/>
<line x1="356.60" y1="1425.50" x2="535.30" y2="1425.50" stroke="#2b2b2b" stroke-width="1"/>
<text x="353.70" y="1431.41" font-size="15.4" text-anchor="end" fill="#000" stroke="#000">0</text>
<line x1="356.60" y1="1359.50" x2="365.50" y2="1359.50" stroke="#2b2b2b" stroke-width="1"/>
<text x="353.70" y="1364.58" font-size="15.4" text-anchor="end" fill="#000" stroke="#000">5</text>
<line x1="356.60" y1="1292.50" x2="365.50" y2="1292.50" stroke="#2b2b2b" stroke-width="1"/>
<text x="353.70" y="1297.75" font-size="15.4" text-anchor="end" fill="#000" stroke="#000">10</text>
<line x1="356.60" y1="1225.50" x2="365.50" y2="1225.50" stroke="#2b2b2b" stroke-width="1"/>
<text x="353.70" y="1230.91" font-size="15.4" text-anchor="end" fill="#000" stroke="#000">15</text>
<line x1="407.50" y1="1425.50" x2="407.50" y2="1433.50" stroke="#2b2b2b" stroke-width="1"/>
<line x1="492.50" y1="1425.50" x2="492.50" y2="1433.50" stroke="#2b2b2b" stroke-width="1"/>
<text x="433.60" y="1185.60" font-size="17.2" text-anchor="middle" fill="#000" stroke="#000"><tspan font-style="italic">HEXA_2</tspan> -38to-1 replace Flag+Asc<tspan font-family="'Liberation Serif', serif">I</tspan>, K562</text>
<text x="443.70" y="1216.00" font-size="15.2" text-anchor="middle" fill="#000" stroke="#000">PBS=15 nt, HS=23 nt</text>
<text x="311.50" y="1329.65" font-size="15.6" text-anchor="middle" fill="#000" stroke="#000" transform="rotate(-90 311.50 1329.65)">% of total sequencing reads</text>
<text x="330.10" y="1329.65" font-size="15.6" text-anchor="middle" fill="#000" stroke="#000" transform="rotate(-90 330.10 1329.65)">with the specified edit or indels</text>
<text x="410.70" y="1451.40" font-size="15.0" text-anchor="middle" fill="#000" stroke="#000">PE2max</text>
<text x="497.30" y="1451.40" font-size="15.0" text-anchor="middle" fill="#000" stroke="#000">EXPERTmax</text>
<rect x="738.10" y="1419.11" width="29.20" height="7.89" fill="#4fb09c"/>
<line x1="752.50" y1="1419.11" x2="752.50" y2="1418.66" stroke="#111" stroke-width="1.25"/>
<line x1="745.40" y1="1418.50" x2="760.00" y2="1418.50" stroke="#111" stroke-width="1.25"/>
<circle cx="744.50" cy="1419.34" r="2.15" fill="#000"/>
<circle cx="752.70" cy="1418.66" r="2.15" fill="#000"/>
<circle cx="760.90" cy="1419.11" r="2.15" fill="#000"/>
<rect x="767.30" y="1420.70" width="29.20" height="6.30" fill="#d5d7d6"/>
<line x1="781.50" y1="1420.70" x2="781.50" y2="1420.24" stroke="#111" stroke-width="1.25"/>
<line x1="774.60" y1="1420.50" x2="789.20" y2="1420.50" stroke="#111" stroke-width="1.25"/>
<circle cx="773.70" cy="1421.15" r="2.15" fill="#000"/>
<circle cx="781.90" cy="1420.24" r="2.15" fill="#000"/>
<circle cx="790.10" cy="1421.15" r="2.15" fill="#000"/>
<rect x="825.90" y="1295.52" width="29.20" height="131.48" fill="#4fb09c"/>
<line x1="840.50" y1="1295.52" x2="840.50" y2="1283.50" stroke="#111" stroke-width="1.25"/>
<line x1="833.20" y1="1283.50" x2="847.80" y2="1283.50" stroke="#111" stroke-width="1.25"/>
<circle cx="840.50" cy="1282.36" r="2.15" fill="#000"/>
<circle cx="836.40" cy="1302.77" r="2.15" fill="#000"/>
<circle cx="844.60" cy="1300.05" r="2.15" fill="#000"/>
<rect x="855.10" y="1421.38" width="29.20" height="5.62" fill="#d5d7d6"/>
<line x1="869.50" y1="1421.38" x2="869.50" y2="1420.70" stroke="#111" stroke-width="1.25"/>
<line x1="862.40" y1="1420.50" x2="877.00" y2="1420.50" stroke="#111" stroke-width="1.25"/>
<circle cx="861.50" cy="1421.83" r="2.15" fill="#000"/>
<circle cx="869.70" cy="1420.70" r="2.15" fill="#000"/>
<circle cx="877.90" cy="1421.38" r="2.15" fill="#000"/>
<line x1="723.50" y1="1223.00" x2="723.50" y2="1430.00" stroke="#2b2b2b" stroke-width="1"/>
<line x1="714.60" y1="1427.50" x2="899.50" y2="1427.50" stroke="#2b2b2b" stroke-width="1"/>
<text x="711.40" y="1433.01" font-size="15.4" text-anchor="end" fill="#000" stroke="#000">0</text>
<line x1="714.60" y1="1359.50" x2="723.50" y2="1359.50" stroke="#2b2b2b" stroke-width="1"/>
<text x="711.40" y="1364.98" font-size="15.4" text-anchor="end" fill="#000" stroke="#000">3</text>
<line x1="714.60" y1="1291.50" x2="723.50" y2="1291.50" stroke="#2b2b2b" stroke-width="1"/>
<text x="711.40" y="1296.95" font-size="15.4" text-anchor="end" fill="#000" stroke="#000">6</text>
<line x1="714.60" y1="1223.50" x2="723.50" y2="1223.50" stroke="#2b2b2b" stroke-width="1"/>
<text x="711.40" y="1228.91" font-size="15.4" text-anchor="end" fill="#000" stroke="#000">9</text>
<line x1="767.50" y1="1427.50" x2="767.50" y2="1435.50" stroke="#2b2b2b" stroke-width="1"/>
<line x1="855.50" y1="1427.50" x2="855.50" y2="1435.50" stroke="#2b2b2b" stroke-width="1"/>
<text x="784.30" y="1185.60" font-size="17.2" text-anchor="middle" fill="#000" stroke="#000"><tspan font-style="italic">HEXA_2</tspan> -38to-1 replace Flag+Asc<tspan font-family="'Liberation Serif', serif">I</tspan>, Jurkat</text>
<text x="800.20" y="1216.00" font-size="15.2" text-anchor="middle" fill="#000" stroke="#000">PBS=15 nt, HS=23 nt</text>
<text x="675.80" y="1329.45" font-size="15.6" text-anchor="middle" fill="#000" stroke="#000" transform="rotate(-90 675.80 1329.45)">% of total sequencing reads</text>
<text x="695.10" y="1329.45" font-size="15.6" text-anchor="middle" fill="#000" stroke="#000" transform="rotate(-90 695.10 1329.45)">with the specified edit or indels</text>
<text x="769.60" y="1451.40" font-size="15.0" text-anchor="middle" fill="#000" stroke="#000">PE2max</text>
<text x="856.10" y="1451.40" font-size="15.0" text-anchor="middle" fill="#000" stroke="#000">EXPERTmax</text>
<rect x="1028.20" y="1390.51" width="28.40" height="36.49" fill="#4fb09c"/>
<line x1="1042.50" y1="1390.51" x2="1042.50" y2="1388.81" stroke="#111" stroke-width="1.25"/>
<line x1="1035.30" y1="1388.50" x2="1049.50" y2="1388.50" stroke="#111" stroke-width="1.25"/>
<circle cx="1034.20" cy="1391.78" r="2.15" fill="#000"/>
<circle cx="1042.40" cy="1389.23" r="2.15" fill="#000"/>
<circle cx="1050.60" cy="1390.08" r="2.15" fill="#000"/>
<rect x="1056.60" y="1413.47" width="28.40" height="13.53" fill="#d5d7d6"/>
<line x1="1070.50" y1="1413.47" x2="1070.50" y2="1412.62" stroke="#111" stroke-width="1.25"/>
<line x1="1063.70" y1="1412.50" x2="1077.90" y2="1412.50" stroke="#111" stroke-width="1.25"/>
<circle cx="1062.60" cy="1413.89" r="2.15" fill="#000"/>
<circle cx="1070.80" cy="1412.62" r="2.15" fill="#000"/>
<circle cx="1079.00" cy="1413.47" r="2.15" fill="#000"/>
<rect x="1113.10" y="1232.75" width="28.40" height="194.25" fill="#4fb09c"/>
<line x1="1127.50" y1="1232.75" x2="1127.50" y2="1226.80" stroke="#111" stroke-width="1.25"/>
<line x1="1120.20" y1="1226.50" x2="1134.40" y2="1226.50" stroke="#111" stroke-width="1.25"/>
<circle cx="1123.20" cy="1227.65" r="2.15" fill="#000"/>
<circle cx="1131.40" cy="1230.20" r="2.15" fill="#000"/>
<circle cx="1127.30" cy="1239.56" r="2.15" fill="#000"/>
<rect x="1141.50" y="1417.72" width="28.40" height="9.28" fill="#d5d7d6"/>
<line x1="1155.50" y1="1417.72" x2="1155.50" y2="1417.30" stroke="#111" stroke-width="1.25"/>
<line x1="1148.60" y1="1417.50" x2="1162.80" y2="1417.50" stroke="#111" stroke-width="1.25"/>
<circle cx="1147.50" cy="1418.15" r="2.15" fill="#000"/>
<circle cx="1155.70" cy="1417.30" r="2.15" fill="#000"/>
<circle cx="1163.90" cy="1417.72" r="2.15" fill="#000"/>
<line x1="1014.50" y1="1223.00" x2="1014.50" y2="1430.00" stroke="#2b2b2b" stroke-width="1"/>
<line x1="1005.60" y1="1427.50" x2="1183.60" y2="1427.50" stroke="#2b2b2b" stroke-width="1"/>
<text x="1003.00" y="1433.01" font-size="15.4" text-anchor="end" fill="#000" stroke="#000">0</text>
<line x1="1005.60" y1="1359.50" x2="1014.50" y2="1359.50" stroke="#2b2b2b" stroke-width="1"/>
<text x="1003.00" y="1364.98" font-size="15.4" text-anchor="end" fill="#000" stroke="#000">8</text>
<line x1="1005.60" y1="1291.50" x2="1014.50" y2="1291.50" stroke="#2b2b2b" stroke-width="1"/>
<text x="1003.00" y="1296.95" font-size="15.4" text-anchor="end" fill="#000" stroke="#000">16</text>
<line x1="1005.60" y1="1223.50" x2="1014.50" y2="1223.50" stroke="#2b2b2b" stroke-width="1"/>
<text x="1003.00" y="1228.91" font-size="15.4" text-anchor="end" fill="#000" stroke="#000">24</text>
<line x1="1056.50" y1="1427.50" x2="1056.50" y2="1435.50" stroke="#2b2b2b" stroke-width="1"/>
<line x1="1141.50" y1="1427.50" x2="1141.50" y2="1435.50" stroke="#2b2b2b" stroke-width="1"/>
<text x="1093.90" y="1185.60" font-size="17.2" text-anchor="middle" fill="#000" stroke="#000"><tspan font-style="italic">VEGFA_1</tspan> -36to-1 del 36bp, Jurkat</text>
<text x="1091.60" y="1216.00" font-size="15.2" text-anchor="middle" fill="#000" stroke="#000">PBS=11 nt, HS=22 nt</text>
<text x="963.70" y="1329.45" font-size="15.6" text-anchor="middle" fill="#000" stroke="#000" transform="rotate(-90 963.70 1329.45)">% of total sequencing reads</text>
<text x="982.30" y="1329.45" font-size="15.6" text-anchor="middle" fill="#000" stroke="#000" transform="rotate(-90 982.30 1329.45)">with the specified edit or indels</text>
<text x="1058.50" y="1451.40" font-size="15.0" text-anchor="middle" fill="#000" stroke="#000">PE2max</text>
<text x="1145.00" y="1451.40" font-size="15.0" text-anchor="middle" fill="#000" stroke="#000">EXPERTmax</text>
<rect x="1370.90" y="1404.72" width="29.20" height="19.28" fill="#7a5cad"/>
<line x1="1385.50" y1="1404.72" x2="1385.50" y2="1399.41" stroke="#111" stroke-width="1.25"/>
<line x1="1378.20" y1="1399.50" x2="1392.80" y2="1399.50" stroke="#111" stroke-width="1.25"/>
<circle cx="1385.50" cy="1399.08" r="2.15" fill="#000"/>
<circle cx="1381.40" cy="1407.38" r="2.15" fill="#000"/>
<circle cx="1389.60" cy="1406.72" r="2.15" fill="#000"/>
<rect x="1400.10" y="1414.03" width="29.20" height="9.97" fill="#d5d7d6"/>
<line x1="1414.50" y1="1414.03" x2="1414.50" y2="1413.37" stroke="#111" stroke-width="1.25"/>
<line x1="1407.40" y1="1413.50" x2="1422.00" y2="1413.50" stroke="#111" stroke-width="1.25"/>
<circle cx="1406.50" cy="1414.36" r="2.15" fill="#000"/>
<circle cx="1414.70" cy="1413.37" r="2.15" fill="#000"/>
<circle cx="1422.90" cy="1414.03" r="2.15" fill="#000"/>
<rect x="1458.30" y="1260.16" width="29.20" height="163.84" fill="#7a5cad"/>
<line x1="1472.50" y1="1260.16" x2="1472.50" y2="1233.91" stroke="#111" stroke-width="1.25"/>
<line x1="1465.60" y1="1233.50" x2="1480.20" y2="1233.50" stroke="#111" stroke-width="1.25"/>
<circle cx="1472.90" cy="1240.55" r="2.15" fill="#000"/>
<circle cx="1472.90" cy="1250.19" r="2.15" fill="#000"/>
<circle cx="1472.90" cy="1290.07" r="2.15" fill="#000"/>
<rect x="1487.50" y="1413.37" width="29.20" height="10.63" fill="#d5d7d6"/>
<line x1="1502.50" y1="1413.37" x2="1502.50" y2="1412.70" stroke="#111" stroke-width="1.25"/>
<line x1="1494.80" y1="1412.50" x2="1509.40" y2="1412.50" stroke="#111" stroke-width="1.25"/>
<circle cx="1493.90" cy="1414.03" r="2.15" fill="#000"/>
<circle cx="1502.10" cy="1412.70" r="2.15" fill="#000"/>
<circle cx="1510.30" cy="1413.37" r="2.15" fill="#000"/>
<line x1="1356.50" y1="1224.00" x2="1356.50" y2="1427.00" stroke="#2b2b2b" stroke-width="1"/>
<line x1="1347.60" y1="1424.50" x2="1532.30" y2="1424.50" stroke="#2b2b2b" stroke-width="1"/>
<text x="1344.50" y="1429.51" font-size="15.4" text-anchor="end" fill="#000" stroke="#000">0</text>
<line x1="1347.60" y1="1357.50" x2="1356.50" y2="1357.50" stroke="#2b2b2b" stroke-width="1"/>
<text x="1344.50" y="1363.05" font-size="15.4" text-anchor="end" fill="#000" stroke="#000">2</text>
<line x1="1347.60" y1="1291.50" x2="1356.50" y2="1291.50" stroke="#2b2b2b" stroke-width="1"/>
<text x="1344.50" y="1296.58" font-size="15.4" text-anchor="end" fill="#000" stroke="#000">4</text>
<line x1="1347.60" y1="1224.50" x2="1356.50" y2="1224.50" stroke="#2b2b2b" stroke-width="1"/>
<text x="1344.50" y="1230.11" font-size="15.4" text-anchor="end" fill="#000" stroke="#000">6</text>
<line x1="1400.50" y1="1424.50" x2="1400.50" y2="1432.50" stroke="#2b2b2b" stroke-width="1"/>
<line x1="1487.50" y1="1424.50" x2="1487.50" y2="1432.50" stroke="#2b2b2b" stroke-width="1"/>
<text x="1421.40" y="1185.60" font-size="17.2" text-anchor="middle" fill="#000" stroke="#000"><tspan font-style="italic">HEXA_2</tspan> -38to-1 replace Flag+Asc<tspan font-family="'Liberation Serif', serif">I</tspan>, Hela</text>
<text x="1432.20" y="1216.00" font-size="15.2" text-anchor="middle" fill="#000" stroke="#000">PBS=15 nt, HS=23 nt</text>
<text x="1309.70" y="1328.30" font-size="15.6" text-anchor="middle" fill="#000" stroke="#000" transform="rotate(-90 1309.70 1328.30)">% of total sequencing reads</text>
<text x="1329.10" y="1328.30" font-size="15.6" text-anchor="middle" fill="#000" stroke="#000" transform="rotate(-90 1329.10 1328.30)">with the specified edit or indels</text>
<text x="1403.10" y="1449.50" font-size="15.0" text-anchor="middle" fill="#000" stroke="#000">PE2max</text>
<text x="1492.10" y="1449.50" font-size="15.0" text-anchor="middle" fill="#000" stroke="#000">EXPERTmax</text>
<rect x="1661.10" y="1324.83" width="27.50" height="99.17" fill="#7a5cad"/>
<line x1="1674.50" y1="1324.83" x2="1674.50" y2="1313.13" stroke="#111" stroke-width="1.25"/>
<line x1="1667.97" y1="1313.50" x2="1681.72" y2="1313.50" stroke="#111" stroke-width="1.25"/>
<circle cx="1674.85" cy="1313.67" r="2.15" fill="#000"/>
<circle cx="1674.85" cy="1325.63" r="2.15" fill="#000"/>
<circle cx="1674.85" cy="1334.40" r="2.15" fill="#000"/>
<rect x="1688.60" y="1397.95" width="27.50" height="26.05" fill="#d5d7d6"/>
<line x1="1702.50" y1="1397.95" x2="1702.50" y2="1397.41" stroke="#111" stroke-width="1.25"/>
<line x1="1695.47" y1="1397.50" x2="1709.22" y2="1397.50" stroke="#111" stroke-width="1.25"/>
<circle cx="1694.15" cy="1398.21" r="2.15" fill="#000"/>
<circle cx="1702.35" cy="1397.41" r="2.15" fill="#000"/>
<circle cx="1710.55" cy="1397.95" r="2.15" fill="#000"/>
<rect x="1743.90" y="1275.65" width="27.50" height="148.35" fill="#7a5cad"/>
<line x1="1757.50" y1="1275.65" x2="1757.50" y2="1264.48" stroke="#111" stroke-width="1.25"/>
<line x1="1750.78" y1="1264.50" x2="1764.53" y2="1264.50" stroke="#111" stroke-width="1.25"/>
<circle cx="1757.65" cy="1266.61" r="2.15" fill="#000"/>
<circle cx="1757.65" cy="1272.99" r="2.15" fill="#000"/>
<circle cx="1757.65" cy="1288.41" r="2.15" fill="#000"/>
<rect x="1771.40" y="1400.07" width="27.50" height="23.93" fill="#d5d7d6"/>
<line x1="1785.50" y1="1400.07" x2="1785.50" y2="1399.27" stroke="#111" stroke-width="1.25"/>
<line x1="1778.28" y1="1399.50" x2="1792.03" y2="1399.50" stroke="#111" stroke-width="1.25"/>
<circle cx="1776.95" cy="1400.87" r="2.15" fill="#000"/>
<circle cx="1785.15" cy="1399.27" r="2.15" fill="#000"/>
<circle cx="1793.35" cy="1399.81" r="2.15" fill="#000"/>
<line x1="1647.50" y1="1224.00" x2="1647.50" y2="1427.00" stroke="#2b2b2b" stroke-width="1"/>
<line x1="1638.60" y1="1424.50" x2="1813.50" y2="1424.50" stroke="#2b2b2b" stroke-width="1"/>
<text x="1635.60" y="1429.51" font-size="15.4" text-anchor="end" fill="#000" stroke="#000">0.0</text>
<line x1="1638.60" y1="1357.50" x2="1647.50" y2="1357.50" stroke="#2b2b2b" stroke-width="1"/>
<text x="1635.60" y="1363.05" font-size="15.4" text-anchor="end" fill="#000" stroke="#000">2.5</text>
<line x1="1638.60" y1="1291.50" x2="1647.50" y2="1291.50" stroke="#2b2b2b" stroke-width="1"/>
<text x="1635.60" y="1296.58" font-size="15.4" text-anchor="end" fill="#000" stroke="#000">5.0</text>
<line x1="1638.60" y1="1224.50" x2="1647.50" y2="1224.50" stroke="#2b2b2b" stroke-width="1"/>
<text x="1635.60" y="1230.11" font-size="15.4" text-anchor="end" fill="#000" stroke="#000">7.5</text>
<line x1="1688.50" y1="1424.50" x2="1688.50" y2="1432.50" stroke="#2b2b2b" stroke-width="1"/>
<line x1="1771.50" y1="1424.50" x2="1771.50" y2="1432.50" stroke="#2b2b2b" stroke-width="1"/>
<text x="1725.50" y="1185.60" font-size="17.2" text-anchor="middle" fill="#000" stroke="#000"><tspan font-style="italic">LMNA</tspan> -35to-1 del 35bp, Hela</text>
<text x="1729.00" y="1216.00" font-size="15.2" text-anchor="middle" fill="#000" stroke="#000">PBS=10 nt, HS=21 nt</text>
<text x="1589.90" y="1328.30" font-size="15.6" text-anchor="middle" fill="#000" stroke="#000" transform="rotate(-90 1589.90 1328.30)">% of total sequencing reads</text>
<text x="1609.30" y="1328.30" font-size="15.6" text-anchor="middle" fill="#000" stroke="#000" transform="rotate(-90 1609.30 1328.30)">with the specified edit or indels</text>
<text x="1691.60" y="1449.50" font-size="14.5" text-anchor="middle" fill="#000" stroke="#000">PE2max</text>
<text x="1775.90" y="1449.50" font-size="14.5" text-anchor="middle" fill="#000" stroke="#000">EXPERTmax</text>
<rect x="59.10" y="1514.70" width="32.50" height="19.00" fill="#e5747d"/>
<rect x="214.90" y="1514.70" width="32.00" height="19.00" fill="#d5d7d6"/>
<text x="96.20" y="1530.60" font-size="16.4" text-anchor="start" fill="#000" stroke="#000">intended edits</text>
<text x="251.60" y="1530.60" font-size="16.4" text-anchor="start" fill="#000" stroke="#000">indels</text>
<circle cx="361.40" cy="1524.80" r="4.6" fill="#000"/>
<text x="380.00" y="1529.00" font-size="16.3" text-anchor="start" fill="#000" stroke="#000">product purity</text>
<rect x="1010.80" y="1514.70" width="32.50" height="19.00" fill="#3e78bf"/>
<rect x="1166.20" y="1514.70" width="32.00" height="19.00" fill="#d5d7d6"/>
<text x="1047.90" y="1530.60" font-size="16.4" text-anchor="start" fill="#000" stroke="#000">intended edits</text>
<text x="1203.30" y="1530.60" font-size="16.4" text-anchor="start" fill="#000" stroke="#000">indels</text>
<circle cx="1320.40" cy="1524.80" r="4.6" fill="#000"/>
<text x="1338.90" y="1529.00" font-size="16.3" text-anchor="start" fill="#000" stroke="#000">product purity</text>
<rect x="94.50" y="1804.08" width="30.30" height="32.92" fill="#e5747d"/>
<line x1="109.50" y1="1804.08" x2="109.50" y2="1800.66" stroke="#111" stroke-width="1.25"/>
<line x1="102.08" y1="1800.50" x2="117.23" y2="1800.50" stroke="#111" stroke-width="1.25"/>
<circle cx="105.55" cy="1801.15" r="2.3" fill="#000"/>
<circle cx="108.01" cy="1806.04" r="2.3" fill="#000"/>
<circle cx="114.57" cy="1805.06" r="2.3" fill="#000"/>
<rect x="124.80" y="1828.03" width="30.30" height="8.97" fill="#d5d7d6"/>
<line x1="139.50" y1="1828.03" x2="139.50" y2="1827.54" stroke="#111" stroke-width="1.25"/>
<line x1="132.38" y1="1827.50" x2="147.52" y2="1827.50" stroke="#111" stroke-width="1.25"/>
<circle cx="131.75" cy="1828.52" r="2.3" fill="#000"/>
<circle cx="139.95" cy="1827.54" r="2.3" fill="#000"/>
<circle cx="148.15" cy="1828.03" r="2.3" fill="#000"/>
<rect x="186.10" y="1692.67" width="30.30" height="144.33" fill="#e5747d"/>
<line x1="201.50" y1="1692.67" x2="201.50" y2="1686.31" stroke="#111" stroke-width="1.25"/>
<line x1="193.68" y1="1686.50" x2="208.82" y2="1686.50" stroke="#111" stroke-width="1.25"/>
<circle cx="201.25" cy="1686.31" r="2.3" fill="#000"/>
<circle cx="197.15" cy="1697.55" r="2.3" fill="#000"/>
<circle cx="205.35" cy="1693.64" r="2.3" fill="#000"/>
<rect x="216.40" y="1814.83" width="30.30" height="22.17" fill="#d5d7d6"/>
<line x1="231.50" y1="1814.83" x2="231.50" y2="1813.37" stroke="#111" stroke-width="1.25"/>
<line x1="223.98" y1="1813.50" x2="239.12" y2="1813.50" stroke="#111" stroke-width="1.25"/>
<circle cx="223.35" cy="1815.81" r="2.3" fill="#000"/>
<circle cx="231.55" cy="1813.37" r="2.3" fill="#000"/>
<circle cx="239.75" cy="1814.83" r="2.3" fill="#000"/>
<line x1="79.50" y1="1617.00" x2="79.50" y2="1840.00" stroke="#2b2b2b" stroke-width="1"/>
<line x1="70.20" y1="1837.50" x2="262.90" y2="1837.50" stroke="#2b2b2b" stroke-width="1"/>
<text x="66.50" y="1843.31" font-size="15.4" text-anchor="end" fill="#000" stroke="#000">0.0</text>
<line x1="70.20" y1="1764.50" x2="79.50" y2="1764.50" stroke="#2b2b2b" stroke-width="1"/>
<text x="66.50" y="1770.01" font-size="15.4" text-anchor="end" fill="#000" stroke="#000">1.5</text>
<line x1="70.20" y1="1691.50" x2="79.50" y2="1691.50" stroke="#2b2b2b" stroke-width="1"/>
<text x="66.50" y="1696.71" font-size="15.4" text-anchor="end" fill="#000" stroke="#000">3.0</text>
<line x1="70.20" y1="1617.50" x2="79.50" y2="1617.50" stroke="#2b2b2b" stroke-width="1"/>
<text x="66.50" y="1623.41" font-size="15.4" text-anchor="end" fill="#000" stroke="#000">4.5</text>
<line x1="124.50" y1="1837.50" x2="124.50" y2="1847.00" stroke="#2b2b2b" stroke-width="1"/>
<line x1="216.50" y1="1837.50" x2="216.50" y2="1847.00" stroke="#2b2b2b" stroke-width="1"/>
<text x="263.20" y="1576.60" font-size="17.2" text-anchor="middle" fill="#000" stroke="#000"><tspan font-style="italic">mIfnar1</tspan> -34to-1 replace loxp, N2a</text>
<text x="261.60" y="1599.80" font-size="15.2" text-anchor="middle" fill="#000" stroke="#000">PBS=13 nt, HS=14 nt</text>
<text x="21.10" y="1726.35" font-size="15.6" text-anchor="middle" fill="#000" stroke="#000" transform="rotate(-90 21.10 1726.35)">% of total sequencing reads</text>
<text x="40.20" y="1726.35" font-size="15.6" text-anchor="middle" fill="#000" stroke="#000" transform="rotate(-90 40.20 1726.35)">with the specified edit or indels</text>
<text x="129.40" y="1860.90" font-size="14.85" text-anchor="end" fill="#000" stroke="#000" transform="rotate(-45 129.40 1860.90)">PE2max</text>
<text x="221.00" y="1860.90" font-size="14.85" text-anchor="end" fill="#000" stroke="#000" transform="rotate(-45 221.00 1860.90)">EXPERTmax</text>
<line x1="308.50" y1="1619.00" x2="308.50" y2="1839.00" stroke="#2b2b2b" stroke-width="1"/>
<line x1="299.20" y1="1836.50" x2="437.90" y2="1836.50" stroke="#2b2b2b" stroke-width="1"/>
<text x="296.40" y="1842.41" font-size="15.4" text-anchor="end" fill="#000" stroke="#000">0</text>
<line x1="299.20" y1="1782.50" x2="308.50" y2="1782.50" stroke="#2b2b2b" stroke-width="1"/>
<text x="296.40" y="1787.96" font-size="15.4" text-anchor="end" fill="#000" stroke="#000">2</text>
<line x1="299.20" y1="1728.50" x2="308.50" y2="1728.50" stroke="#2b2b2b" stroke-width="1"/>
<text x="296.40" y="1733.51" font-size="15.4" text-anchor="end" fill="#000" stroke="#000">4</text>
<line x1="299.20" y1="1673.50" x2="308.50" y2="1673.50" stroke="#2b2b2b" stroke-width="1"/>
<text x="296.40" y="1679.06" font-size="15.4" text-anchor="end" fill="#000" stroke="#000">6</text>
<line x1="299.20" y1="1619.50" x2="308.50" y2="1619.50" stroke="#2b2b2b" stroke-width="1"/>
<text x="296.40" y="1624.61" font-size="15.4" text-anchor="end" fill="#000" stroke="#000">8</text>
<line x1="345.50" y1="1836.50" x2="345.50" y2="1845.50" stroke="#2b2b2b" stroke-width="1"/>
<line x1="400.50" y1="1836.50" x2="400.50" y2="1845.50" stroke="#2b2b2b" stroke-width="1"/>
<line x1="327.05" y1="1748.50" x2="363.75" y2="1748.50" stroke="#111" stroke-width="1.2"/>
<circle cx="345.40" cy="1740.25" r="2.4" fill="#000"/>
<circle cx="345.40" cy="1748.42" r="2.4" fill="#000"/>
<circle cx="345.40" cy="1753.86" r="2.4" fill="#000"/>
<line x1="381.65" y1="1663.50" x2="418.35" y2="1663.50" stroke="#111" stroke-width="1.2"/>
<circle cx="400.00" cy="1657.21" r="2.4" fill="#000"/>
<circle cx="400.00" cy="1664.02" r="2.4" fill="#000"/>
<circle cx="400.00" cy="1676.27" r="2.4" fill="#000"/>
<text x="282.50" y="1721.50" font-size="15" text-anchor="middle" fill="#000" stroke="#000" transform="rotate(-90 282.50 1721.50)">intended edits:indels ratio</text>
<text x="350.70" y="1860.20" font-size="14.85" text-anchor="end" fill="#000" stroke="#000" transform="rotate(-45 350.70 1860.20)">PE2max</text>
<text x="405.30" y="1860.20" font-size="14.85" text-anchor="end" fill="#000" stroke="#000" transform="rotate(-45 405.30 1860.20)">EXPERTmax</text>
<rect x="548.80" y="1788.32" width="32.60" height="48.68" fill="#e5747d"/>
<line x1="565.50" y1="1788.32" x2="565.50" y2="1780.99" stroke="#111" stroke-width="1.25"/>
<line x1="556.95" y1="1780.50" x2="573.25" y2="1780.50" stroke="#111" stroke-width="1.25"/>
<circle cx="565.10" cy="1780.99" r="2.3" fill="#000"/>
<circle cx="565.10" cy="1787.22" r="2.3" fill="#000"/>
<circle cx="565.10" cy="1794.92" r="2.3" fill="#000"/>
<rect x="581.40" y="1817.64" width="32.60" height="19.36" fill="#d5d7d6"/>
<line x1="597.50" y1="1817.64" x2="597.50" y2="1816.91" stroke="#111" stroke-width="1.25"/>
<line x1="589.55" y1="1816.50" x2="605.85" y2="1816.50" stroke="#111" stroke-width="1.25"/>
<circle cx="589.50" cy="1818.01" r="2.3" fill="#000"/>
<circle cx="597.70" cy="1816.91" r="2.3" fill="#000"/>
<circle cx="605.90" cy="1817.28" r="2.3" fill="#000"/>
<rect x="645.90" y="1645.39" width="32.60" height="191.61" fill="#e5747d"/>
<line x1="662.50" y1="1645.39" x2="662.50" y2="1643.56" stroke="#111" stroke-width="1.25"/>
<line x1="654.05" y1="1643.50" x2="670.35" y2="1643.50" stroke="#111" stroke-width="1.25"/>
<circle cx="654.00" cy="1647.22" r="2.3" fill="#000"/>
<circle cx="662.20" cy="1643.56" r="2.3" fill="#000"/>
<circle cx="670.40" cy="1646.12" r="2.3" fill="#000"/>
<rect x="678.50" y="1798.58" width="32.60" height="38.42" fill="#d5d7d6"/>
<line x1="694.50" y1="1798.58" x2="694.50" y2="1797.48" stroke="#111" stroke-width="1.25"/>
<line x1="686.65" y1="1797.50" x2="702.95" y2="1797.50" stroke="#111" stroke-width="1.25"/>
<circle cx="686.60" cy="1800.42" r="2.3" fill="#000"/>
<circle cx="694.80" cy="1797.48" r="2.3" fill="#000"/>
<circle cx="703.00" cy="1797.85" r="2.3" fill="#000"/>
<line x1="533.50" y1="1617.00" x2="533.50" y2="1840.00" stroke="#2b2b2b" stroke-width="1"/>
<line x1="524.20" y1="1837.50" x2="727.90" y2="1837.50" stroke="#2b2b2b" stroke-width="1"/>
<text x="520.50" y="1842.70" font-size="13.7" text-anchor="end" fill="#000" stroke="#000">0</text>
<line x1="524.20" y1="1764.50" x2="533.50" y2="1764.50" stroke="#2b2b2b" stroke-width="1"/>
<text x="520.50" y="1769.40" font-size="13.7" text-anchor="end" fill="#000" stroke="#000">2</text>
<line x1="524.20" y1="1691.50" x2="533.50" y2="1691.50" stroke="#2b2b2b" stroke-width="1"/>
<text x="520.50" y="1696.10" font-size="13.7" text-anchor="end" fill="#000" stroke="#000">4</text>
<line x1="524.20" y1="1617.50" x2="533.50" y2="1617.50" stroke="#2b2b2b" stroke-width="1"/>
<text x="520.50" y="1622.80" font-size="13.7" text-anchor="end" fill="#000" stroke="#000">6</text>
<line x1="581.50" y1="1837.50" x2="581.50" y2="1847.00" stroke="#2b2b2b" stroke-width="1"/>
<line x1="678.50" y1="1837.50" x2="678.50" y2="1847.00" stroke="#2b2b2b" stroke-width="1"/>
<text x="702.80" y="1576.60" font-size="17.2" text-anchor="middle" fill="#000" stroke="#000"><tspan font-style="italic">mTgfb1</tspan> -32to-1 replace Flag+Asc<tspan font-family="'Liberation Serif', serif">I</tspan>, N2a</text>
<text x="718.60" y="1599.80" font-size="15.2" text-anchor="middle" fill="#000" stroke="#000">PBS=13 nt, HS=13 nt</text>
<text x="484.00" y="1726.35" font-size="15.6" text-anchor="middle" fill="#000" stroke="#000" transform="rotate(-90 484.00 1726.35)">% of total sequencing reads</text>
<text x="503.20" y="1726.35" font-size="15.6" text-anchor="middle" fill="#000" stroke="#000" transform="rotate(-90 503.20 1726.35)">with the specified edit or indels</text>
<text x="588.40" y="1859.70" font-size="15.5" text-anchor="end" fill="#000" stroke="#000" transform="rotate(-45 588.40 1859.70)">PE2max</text>
<text x="685.50" y="1859.70" font-size="15.5" text-anchor="end" fill="#000" stroke="#000" transform="rotate(-45 685.50 1859.70)">EXPERTmax</text>
<line x1="790.50" y1="1622.00" x2="790.50" y2="1840.00" stroke="#2b2b2b" stroke-width="1"/>
<line x1="781.20" y1="1837.50" x2="918.50" y2="1837.50" stroke="#2b2b2b" stroke-width="1"/>
<text x="778.30" y="1843.31" font-size="15.4" text-anchor="end" fill="#000" stroke="#000">0.0</text>
<line x1="781.20" y1="1784.50" x2="790.50" y2="1784.50" stroke="#2b2b2b" stroke-width="1"/>
<text x="778.30" y="1789.61" font-size="15.4" text-anchor="end" fill="#000" stroke="#000">1.5</text>
<line x1="781.20" y1="1730.50" x2="790.50" y2="1730.50" stroke="#2b2b2b" stroke-width="1"/>
<text x="778.30" y="1735.91" font-size="15.4" text-anchor="end" fill="#000" stroke="#000">3.0</text>
<line x1="781.20" y1="1676.50" x2="790.50" y2="1676.50" stroke="#2b2b2b" stroke-width="1"/>
<text x="778.30" y="1682.21" font-size="15.4" text-anchor="end" fill="#000" stroke="#000">4.5</text>
<line x1="781.20" y1="1622.50" x2="790.50" y2="1622.50" stroke="#2b2b2b" stroke-width="1"/>
<text x="778.30" y="1628.51" font-size="15.4" text-anchor="end" fill="#000" stroke="#000">6.0</text>
<line x1="826.50" y1="1837.50" x2="826.50" y2="1846.50" stroke="#2b2b2b" stroke-width="1"/>
<line x1="880.50" y1="1837.50" x2="880.50" y2="1846.50" stroke="#2b2b2b" stroke-width="1"/>
<line x1="808.15" y1="1752.50" x2="844.85" y2="1752.50" stroke="#111" stroke-width="1.2"/>
<circle cx="826.50" cy="1738.28" r="2.4" fill="#000"/>
<circle cx="826.50" cy="1752.95" r="2.4" fill="#000"/>
<circle cx="826.50" cy="1759.76" r="2.4" fill="#000"/>
<line x1="862.65" y1="1666.50" x2="899.35" y2="1666.50" stroke="#111" stroke-width="1.2"/>
<circle cx="881.00" cy="1650.57" r="2.4" fill="#000"/>
<circle cx="876.70" cy="1668.11" r="2.4" fill="#000"/>
<circle cx="885.30" cy="1665.96" r="2.4" fill="#000"/>
<text x="748.30" y="1720.90" font-size="15" text-anchor="middle" fill="#000" stroke="#000" transform="rotate(-90 748.30 1720.90)">intended edits:indels ratio</text>
<text x="831.80" y="1861.10" font-size="14.85" text-anchor="end" fill="#000" stroke="#000" transform="rotate(-45 831.80 1861.10)">PE2max</text>
<text x="886.30" y="1861.10" font-size="14.85" text-anchor="end" fill="#000" stroke="#000" transform="rotate(-45 886.30 1861.10)">EXPERTmax</text>
<rect x="1046.90" y="1833.22" width="31.60" height="3.78" fill="#3e78bf"/>
<line x1="1062.50" y1="1833.22" x2="1062.50" y2="1832.67" stroke="#111" stroke-width="1.25"/>
<line x1="1054.80" y1="1832.50" x2="1070.60" y2="1832.50" stroke="#111" stroke-width="1.25"/>
<circle cx="1054.50" cy="1834.13" r="2.3" fill="#000"/>
<circle cx="1062.70" cy="1832.67" r="2.3" fill="#000"/>
<circle cx="1070.90" cy="1833.40" r="2.3" fill="#000"/>
<rect x="1078.50" y="1810.68" width="31.60" height="26.32" fill="#d5d7d6"/>
<line x1="1094.50" y1="1810.68" x2="1094.50" y2="1808.48" stroke="#111" stroke-width="1.25"/>
<line x1="1086.40" y1="1808.50" x2="1102.20" y2="1808.50" stroke="#111" stroke-width="1.25"/>
<circle cx="1086.10" cy="1812.51" r="2.3" fill="#000"/>
<circle cx="1094.30" cy="1808.48" r="2.3" fill="#000"/>
<circle cx="1102.50" cy="1809.40" r="2.3" fill="#000"/>
<rect x="1140.80" y="1670.68" width="31.60" height="166.32" fill="#3e78bf"/>
<line x1="1156.50" y1="1670.68" x2="1156.50" y2="1666.46" stroke="#111" stroke-width="1.25"/>
<line x1="1148.70" y1="1666.50" x2="1164.50" y2="1666.50" stroke="#111" stroke-width="1.25"/>
<circle cx="1156.60" cy="1667.38" r="2.3" fill="#000"/>
<circle cx="1152.50" cy="1673.79" r="2.3" fill="#000"/>
<circle cx="1160.70" cy="1671.04" r="2.3" fill="#000"/>
<rect x="1172.40" y="1760.84" width="31.60" height="76.16" fill="#d5d7d6"/>
<line x1="1188.50" y1="1760.84" x2="1188.50" y2="1757.54" stroke="#111" stroke-width="1.25"/>
<line x1="1180.30" y1="1757.50" x2="1196.10" y2="1757.50" stroke="#111" stroke-width="1.25"/>
<circle cx="1186.56" cy="1758.09" r="2.3" fill="#000"/>
<circle cx="1185.74" cy="1762.67" r="2.3" fill="#000"/>
<circle cx="1193.94" cy="1761.75" r="2.3" fill="#000"/>
<line x1="1031.50" y1="1617.00" x2="1031.50" y2="1840.00" stroke="#2b2b2b" stroke-width="1"/>
<line x1="1022.20" y1="1837.50" x2="1220.70" y2="1837.50" stroke="#2b2b2b" stroke-width="1"/>
<text x="1019.10" y="1843.31" font-size="15.4" text-anchor="end" fill="#000" stroke="#000">0</text>
<line x1="1022.20" y1="1764.50" x2="1031.50" y2="1764.50" stroke="#2b2b2b" stroke-width="1"/>
<text x="1019.10" y="1770.01" font-size="15.4" text-anchor="end" fill="#000" stroke="#000">4</text>
<line x1="1022.20" y1="1691.50" x2="1031.50" y2="1691.50" stroke="#2b2b2b" stroke-width="1"/>
<text x="1019.10" y="1696.71" font-size="15.4" text-anchor="end" fill="#000" stroke="#000">8</text>
<line x1="1022.20" y1="1617.50" x2="1031.50" y2="1617.50" stroke="#2b2b2b" stroke-width="1"/>
<text x="1019.10" y="1623.41" font-size="15.4" text-anchor="end" fill="#000" stroke="#000">12</text>
<line x1="1078.50" y1="1837.50" x2="1078.50" y2="1847.00" stroke="#2b2b2b" stroke-width="1"/>
<line x1="1172.50" y1="1837.50" x2="1172.50" y2="1847.00" stroke="#2b2b2b" stroke-width="1"/>
<text x="1210.60" y="1576.60" font-size="17.2" text-anchor="middle" fill="#000" stroke="#000"><tspan font-style="italic">susANTXR1</tspan> -17 Flag ins, PFF</text>
<text x="1210.20" y="1599.80" font-size="15.2" text-anchor="middle" fill="#000" stroke="#000">PBS=10 nt, HS=14 nt</text>
<text x="978.50" y="1726.35" font-size="15.6" text-anchor="middle" fill="#000" stroke="#000" transform="rotate(-90 978.50 1726.35)">% of total sequencing reads</text>
<text x="998.90" y="1726.35" font-size="15.6" text-anchor="middle" fill="#000" stroke="#000" transform="rotate(-90 998.90 1726.35)">with the specified edit or indels</text>
<text x="1083.10" y="1860.90" font-size="14.85" text-anchor="end" fill="#000" stroke="#000" transform="rotate(-45 1083.10 1860.90)">PE2max</text>
<text x="1177.00" y="1860.90" font-size="14.85" text-anchor="end" fill="#000" stroke="#000" transform="rotate(-45 1177.00 1860.90)">EXPERTmax</text>
<line x1="1275.50" y1="1622.00" x2="1275.50" y2="1840.00" stroke="#2b2b2b" stroke-width="1"/>
<line x1="1266.20" y1="1837.50" x2="1403.10" y2="1837.50" stroke="#2b2b2b" stroke-width="1"/>
<text x="1263.00" y="1843.31" font-size="15.4" text-anchor="end" fill="#000" stroke="#000">0.0</text>
<line x1="1266.20" y1="1784.50" x2="1275.50" y2="1784.50" stroke="#2b2b2b" stroke-width="1"/>
<text x="1263.00" y="1789.61" font-size="15.4" text-anchor="end" fill="#000" stroke="#000">0.6</text>
<line x1="1266.20" y1="1730.50" x2="1275.50" y2="1730.50" stroke="#2b2b2b" stroke-width="1"/>
<text x="1263.00" y="1735.91" font-size="15.4" text-anchor="end" fill="#000" stroke="#000">1.2</text>
<line x1="1266.20" y1="1676.50" x2="1275.50" y2="1676.50" stroke="#2b2b2b" stroke-width="1"/>
<text x="1263.00" y="1682.21" font-size="15.4" text-anchor="end" fill="#000" stroke="#000">1.8</text>
<line x1="1266.20" y1="1622.50" x2="1275.50" y2="1622.50" stroke="#2b2b2b" stroke-width="1"/>
<text x="1263.00" y="1628.51" font-size="15.4" text-anchor="end" fill="#000" stroke="#000">2.4</text>
<line x1="1311.50" y1="1837.50" x2="1311.50" y2="1846.50" stroke="#2b2b2b" stroke-width="1"/>
<line x1="1366.50" y1="1837.50" x2="1366.50" y2="1846.50" stroke="#2b2b2b" stroke-width="1"/>
<line x1="1293.15" y1="1824.50" x2="1329.85" y2="1824.50" stroke="#111" stroke-width="1.2"/>
<circle cx="1303.00" cy="1824.82" r="2.4" fill="#000"/>
<circle cx="1311.50" cy="1822.14" r="2.4" fill="#000"/>
<circle cx="1320.00" cy="1824.38" r="2.4" fill="#000"/>
<line x1="1348.05" y1="1643.50" x2="1384.75" y2="1643.50" stroke="#111" stroke-width="1.2"/>
<circle cx="1366.40" cy="1637.32" r="2.4" fill="#000"/>
<circle cx="1366.40" cy="1643.59" r="2.4" fill="#000"/>
<circle cx="1366.40" cy="1651.64" r="2.4" fill="#000"/>
<text x="1237.50" y="1720.90" font-size="15" text-anchor="middle" fill="#000" stroke="#000" transform="rotate(-90 1237.50 1720.90)">intended edits:indels ratio</text>
<text x="1316.80" y="1861.10" font-size="14.85" text-anchor="end" fill="#000" stroke="#000" transform="rotate(-45 1316.80 1861.10)">PE2max</text>
<text x="1371.70" y="1861.10" font-size="14.85" text-anchor="end" fill="#000" stroke="#000" transform="rotate(-45 1371.70 1861.10)">EXPERTmax</text>
<rect x="1517.80" y="1786.86" width="31.50" height="50.14" fill="#3e78bf"/>
<line x1="1533.50" y1="1786.86" x2="1533.50" y2="1782.09" stroke="#111" stroke-width="1.25"/>
<line x1="1525.67" y1="1782.50" x2="1541.42" y2="1782.50" stroke="#111" stroke-width="1.25"/>
<circle cx="1533.55" cy="1782.46" r="2.3" fill="#000"/>
<circle cx="1529.45" cy="1790.52" r="2.3" fill="#000"/>
<circle cx="1537.65" cy="1787.22" r="2.3" fill="#000"/>
<rect x="1549.30" y="1835.23" width="31.50" height="1.77" fill="#d5d7d6"/>
<line x1="1557.17" y1="1835.50" x2="1572.92" y2="1835.50" stroke="#111" stroke-width="1.25"/>
<circle cx="1556.85" cy="1835.38" r="2.3" fill="#000"/>
<circle cx="1565.05" cy="1835.01" r="2.3" fill="#000"/>
<circle cx="1573.25" cy="1835.23" r="2.3" fill="#000"/>
<rect x="1611.70" y="1666.64" width="31.50" height="170.36" fill="#3e78bf"/>
<line x1="1627.50" y1="1666.64" x2="1627.50" y2="1657.48" stroke="#111" stroke-width="1.25"/>
<line x1="1619.58" y1="1657.50" x2="1635.33" y2="1657.50" stroke="#111" stroke-width="1.25"/>
<circle cx="1627.45" cy="1656.02" r="2.3" fill="#000"/>
<circle cx="1623.35" cy="1671.41" r="2.3" fill="#000"/>
<circle cx="1631.55" cy="1671.04" r="2.3" fill="#000"/>
<rect x="1643.20" y="1835.60" width="31.50" height="1.40" fill="#d5d7d6"/>
<line x1="1651.08" y1="1835.50" x2="1666.83" y2="1835.50" stroke="#111" stroke-width="1.25"/>
<circle cx="1650.75" cy="1835.75" r="2.3" fill="#000"/>
<circle cx="1658.95" cy="1835.45" r="2.3" fill="#000"/>
<circle cx="1667.15" cy="1835.60" r="2.3" fill="#000"/>
<line x1="1501.50" y1="1617.00" x2="1501.50" y2="1840.00" stroke="#2b2b2b" stroke-width="1"/>
<line x1="1492.20" y1="1837.50" x2="1691.10" y2="1837.50" stroke="#2b2b2b" stroke-width="1"/>
<text x="1489.20" y="1842.70" font-size="13.7" text-anchor="end" fill="#000" stroke="#000">0</text>
<line x1="1492.20" y1="1764.50" x2="1501.50" y2="1764.50" stroke="#2b2b2b" stroke-width="1"/>
<text x="1489.20" y="1769.40" font-size="13.7" text-anchor="end" fill="#000" stroke="#000">10</text>
<line x1="1492.20" y1="1691.50" x2="1501.50" y2="1691.50" stroke="#2b2b2b" stroke-width="1"/>
<text x="1489.20" y="1696.10" font-size="13.7" text-anchor="end" fill="#000" stroke="#000">20</text>
<line x1="1492.20" y1="1617.50" x2="1501.50" y2="1617.50" stroke="#2b2b2b" stroke-width="1"/>
<text x="1489.20" y="1622.80" font-size="13.7" text-anchor="end" fill="#000" stroke="#000">30</text>
<line x1="1549.50" y1="1837.50" x2="1549.50" y2="1847.00" stroke="#2b2b2b" stroke-width="1"/>
<line x1="1643.50" y1="1837.50" x2="1643.50" y2="1847.00" stroke="#2b2b2b" stroke-width="1"/>
<text x="1653.30" y="1576.60" font-size="17.2" text-anchor="middle" fill="#000" stroke="#000"><tspan font-style="italic">susCALR</tspan> -41to-1 replace anti-JEV mutation, PFF</text>
<text x="1668.70" y="1599.80" font-size="15.2" text-anchor="middle" fill="#000" stroke="#000">PBS=14 nt, HS=14 nt</text>
<text x="1448.90" y="1726.35" font-size="15.6" text-anchor="middle" fill="#000" stroke="#000" transform="rotate(-90 1448.90 1726.35)">% of total sequencing reads</text>
<text x="1468.60" y="1726.35" font-size="15.6" text-anchor="middle" fill="#000" stroke="#000" transform="rotate(-90 1468.60 1726.35)">with the specified edit or indels</text>
<text x="1553.40" y="1858.40" font-size="15" text-anchor="end" fill="#000" stroke="#000" transform="rotate(-45 1553.40 1858.40)">PE2max</text>
<text x="1647.30" y="1858.40" font-size="15" text-anchor="end" fill="#000" stroke="#000" transform="rotate(-45 1647.30 1858.40)">EXPERTmax</text>
<line x1="1737.50" y1="1622.00" x2="1737.50" y2="1840.00" stroke="#2b2b2b" stroke-width="1"/>
<line x1="1728.20" y1="1837.50" x2="1864.70" y2="1837.50" stroke="#2b2b2b" stroke-width="1"/>
<text x="1724.50" y="1843.31" font-size="15.4" text-anchor="end" fill="#000" stroke="#000">0</text>
<line x1="1728.20" y1="1784.50" x2="1737.50" y2="1784.50" stroke="#2b2b2b" stroke-width="1"/>
<text x="1724.50" y="1789.61" font-size="15.4" text-anchor="end" fill="#000" stroke="#000">25</text>
<line x1="1728.20" y1="1730.50" x2="1737.50" y2="1730.50" stroke="#2b2b2b" stroke-width="1"/>
<text x="1724.50" y="1735.91" font-size="15.4" text-anchor="end" fill="#000" stroke="#000">50</text>
<line x1="1728.20" y1="1676.50" x2="1737.50" y2="1676.50" stroke="#2b2b2b" stroke-width="1"/>
<text x="1724.50" y="1682.21" font-size="15.4" text-anchor="end" fill="#000" stroke="#000">75</text>
<line x1="1728.20" y1="1622.50" x2="1737.50" y2="1622.50" stroke="#2b2b2b" stroke-width="1"/>
<text x="1724.50" y="1628.51" font-size="15.4" text-anchor="end" fill="#000" stroke="#000">100</text>
<line x1="1773.50" y1="1837.50" x2="1773.50" y2="1846.50" stroke="#2b2b2b" stroke-width="1"/>
<line x1="1827.50" y1="1837.50" x2="1827.50" y2="1846.50" stroke="#2b2b2b" stroke-width="1"/>
<line x1="1754.75" y1="1793.50" x2="1791.45" y2="1793.50" stroke="#111" stroke-width="1.2"/>
<circle cx="1768.80" cy="1793.12" r="2.4" fill="#000"/>
<circle cx="1777.40" cy="1793.77" r="2.4" fill="#000"/>
<circle cx="1773.10" cy="1806.22" r="2.4" fill="#000"/>
<line x1="1809.25" y1="1690.50" x2="1845.95" y2="1690.50" stroke="#111" stroke-width="1.2"/>
<circle cx="1827.60" cy="1653.72" r="2.4" fill="#000"/>
<circle cx="1827.60" cy="1690.02" r="2.4" fill="#000"/>
<circle cx="1827.60" cy="1697.75" r="2.4" fill="#000"/>
<text x="1700.00" y="1720.90" font-size="15" text-anchor="middle" fill="#000" stroke="#000" transform="rotate(-90 1700.00 1720.90)">intended edits:indels ratio</text>
<text x="1778.40" y="1861.10" font-size="14.85" text-anchor="end" fill="#000" stroke="#000" transform="rotate(-45 1778.40 1861.10)">PE2max</text>
<text x="1832.90" y="1861.10" font-size="14.85" text-anchor="end" fill="#000" stroke="#000" transform="rotate(-45 1832.90 1861.10)">EXPERTmax</text>
<rect x="998.40" y="2317.25" width="35.20" height="50.75" fill="#c5202a"/>
<line x1="1015.50" y1="2317.25" x2="1015.50" y2="2313.27" stroke="#111" stroke-width="1.5"/>
<line x1="1007.20" y1="2313.50" x2="1024.80" y2="2313.50" stroke="#111" stroke-width="1.5"/>
<circle cx="1009.19" cy="2313.27" r="3.2" fill="#000"/>
<circle cx="1009.19" cy="2321.68" r="3.2" fill="#000"/>
<circle cx="1022.67" cy="2317.25" r="3.2" fill="#000"/>
<rect x="1033.60" y="2367.05" width="35.20" height="0.95" fill="#d5d7d6"/>
<line x1="1042.40" y1="2366.50" x2="1060.00" y2="2366.50" stroke="#111" stroke-width="1.5"/>
<circle cx="1037.30" cy="2367.49" r="3.2" fill="#000"/>
<circle cx="1051.20" cy="2366.61" r="3.2" fill="#000"/>
<circle cx="1065.10" cy="2366.83" r="3.2" fill="#000"/>
<rect x="1102.80" y="2287.81" width="35.20" height="80.19" fill="#c5202a"/>
<line x1="1120.50" y1="2287.81" x2="1120.50" y2="2278.96" stroke="#111" stroke-width="1.5"/>
<line x1="1111.60" y1="2278.50" x2="1129.20" y2="2278.50" stroke="#111" stroke-width="1.5"/>
<circle cx="1120.40" cy="2278.96" r="3.2" fill="#000"/>
<circle cx="1120.40" cy="2286.71" r="3.2" fill="#000"/>
<circle cx="1120.40" cy="2296.67" r="3.2" fill="#000"/>
<rect x="1138.00" y="2366.83" width="35.20" height="1.17" fill="#d5d7d6"/>
<line x1="1146.80" y1="2366.50" x2="1164.40" y2="2366.50" stroke="#111" stroke-width="1.5"/>
<circle cx="1141.70" cy="2367.27" r="3.2" fill="#000"/>
<circle cx="1155.60" cy="2366.61" r="3.2" fill="#000"/>
<circle cx="1169.50" cy="2366.83" r="3.2" fill="#000"/>
<rect x="1207.50" y="2166.08" width="35.20" height="201.92" fill="#c5202a"/>
<line x1="1225.50" y1="2166.08" x2="1225.50" y2="2164.53" stroke="#111" stroke-width="1.5"/>
<line x1="1216.30" y1="2164.50" x2="1233.90" y2="2164.50" stroke="#111" stroke-width="1.5"/>
<circle cx="1211.20" cy="2167.19" r="3.2" fill="#000"/>
<circle cx="1225.10" cy="2164.53" r="3.2" fill="#000"/>
<circle cx="1239.00" cy="2166.08" r="3.2" fill="#000"/>
<rect x="1242.70" y="2365.72" width="35.20" height="2.28" fill="#d5d7d6"/>
<line x1="1260.50" y1="2365.72" x2="1260.50" y2="2365.28" stroke="#111" stroke-width="1.5"/>
<line x1="1251.50" y1="2365.50" x2="1269.10" y2="2365.50" stroke="#111" stroke-width="1.5"/>
<circle cx="1246.40" cy="2366.39" r="3.2" fill="#000"/>
<circle cx="1260.30" cy="2365.28" r="3.2" fill="#000"/>
<circle cx="1274.20" cy="2365.50" r="3.2" fill="#000"/>
<rect x="1312.20" y="2107.43" width="35.20" height="260.57" fill="#c5202a"/>
<line x1="1329.50" y1="2107.43" x2="1329.50" y2="2087.51" stroke="#111" stroke-width="1.5"/>
<line x1="1321.00" y1="2087.50" x2="1338.60" y2="2087.50" stroke="#111" stroke-width="1.5"/>
<circle cx="1329.80" cy="2085.29" r="3.2" fill="#000"/>
<circle cx="1329.80" cy="2114.07" r="3.2" fill="#000"/>
<circle cx="1329.80" cy="2122.92" r="3.2" fill="#000"/>
<rect x="1347.40" y="2364.84" width="35.20" height="3.16" fill="#d5d7d6"/>
<line x1="1356.20" y1="2364.50" x2="1373.80" y2="2364.50" stroke="#111" stroke-width="1.5"/>
<circle cx="1351.10" cy="2365.72" r="3.2" fill="#000"/>
<circle cx="1365.00" cy="2364.39" r="3.2" fill="#000"/>
<circle cx="1378.90" cy="2364.84" r="3.2" fill="#000"/>
<line x1="981.50" y1="2036.00" x2="981.50" y2="2371.00" stroke="#2b2b2b" stroke-width="1"/>
<line x1="967.00" y1="2368.50" x2="1401.20" y2="2368.50" stroke="#2b2b2b" stroke-width="1"/>
<text x="963.40" y="2376.23" font-size="21.3" text-anchor="end" fill="#000" stroke="#000">0</text>
<line x1="967.00" y1="2257.50" x2="981.50" y2="2257.50" stroke="#2b2b2b" stroke-width="1"/>
<text x="963.40" y="2265.56" font-size="21.3" text-anchor="end" fill="#000" stroke="#000">5</text>
<line x1="967.00" y1="2147.50" x2="981.50" y2="2147.50" stroke="#2b2b2b" stroke-width="1"/>
<text x="963.40" y="2154.89" font-size="21.3" text-anchor="end" fill="#000" stroke="#000">10</text>
<line x1="967.00" y1="2036.50" x2="981.50" y2="2036.50" stroke="#2b2b2b" stroke-width="1"/>
<text x="963.40" y="2044.23" font-size="21.3" text-anchor="end" fill="#000" stroke="#000">15</text>
<line x1="1033.50" y1="2368.50" x2="1033.50" y2="2382.30" stroke="#2b2b2b" stroke-width="1"/>
<line x1="1138.50" y1="2368.50" x2="1138.50" y2="2382.30" stroke="#2b2b2b" stroke-width="1"/>
<line x1="1242.50" y1="2368.50" x2="1242.50" y2="2382.30" stroke="#2b2b2b" stroke-width="1"/>
<line x1="1347.50" y1="2368.50" x2="1347.50" y2="2382.30" stroke="#2b2b2b" stroke-width="1"/>
<text x="899.10" y="2204.30" font-size="21.4" text-anchor="middle" fill="#000" stroke="#000" transform="rotate(-90 899.10 2204.30)">% of total sequencing reads</text>
<text x="927.00" y="2204.30" font-size="21.4" text-anchor="middle" fill="#000" stroke="#000" transform="rotate(-90 927.00 2204.30)">with the specified edit or indels</text>
<rect x="1026.70" y="2028.20" width="35.50" height="17.80" fill="#c5202a"/>
<rect x="1026.70" y="2065.30" width="35.50" height="17.40" fill="#d5d7d6"/>
<text x="1082.30" y="2044.00" font-size="17.8" text-anchor="start" fill="#000" stroke="#000">intended edits</text>
<text x="1082.30" y="2080.70" font-size="17.8" text-anchor="start" fill="#000" stroke="#000">indels</text>
<text x="1039.80" y="2394.40" font-size="17.8" text-anchor="end" fill="#000" stroke="#000" transform="rotate(-45 1039.80 2394.40)">PE2max</text>
<text x="1144.20" y="2394.40" font-size="17.8" text-anchor="end" fill="#000" stroke="#000" transform="rotate(-45 1144.20 2394.40)">PE3max</text>
<text x="1248.90" y="2394.40" font-size="17.8" text-anchor="end" fill="#000" stroke="#000" transform="rotate(-45 1248.90 2394.40)">EXPERTmax</text>
<text x="1353.60" y="2394.40" font-size="17.8" text-anchor="end" fill="#000" stroke="#000" transform="rotate(-45 1353.60 2394.40)">EXPERTmax</text>
<text x="1353.60" y="2394.40" font-size="17.8" text-anchor="end" fill="#000" stroke="#000" transform="rotate(-45 1353.60 2394.40) translate(10.68 22.43)">+nicking sgRNA</text>
<text x="1418.00" y="1982.20" font-size="20.2" text-anchor="middle" fill="#000" stroke="#000"><tspan font-style="italic">CFTR</tspan> 4 mutations install, HEK293T</text>
<text x="1428.30" y="2014.30" font-size="16.9" text-anchor="middle" fill="#000" stroke="#000">PBS=14 nt, HS=13 nt</text>
<line x1="1522.50" y1="2078.00" x2="1522.50" y2="2371.00" stroke="#2b2b2b" stroke-width="1"/>
<line x1="1510.50" y1="2368.50" x2="1866.60" y2="2368.50" stroke="#2b2b2b" stroke-width="1"/>
<text x="1507.30" y="2375.17" font-size="19.2" text-anchor="end" fill="#000" stroke="#000">0</text>
<line x1="1510.50" y1="2295.50" x2="1522.50" y2="2295.50" stroke="#2b2b2b" stroke-width="1"/>
<text x="1507.30" y="2302.60" font-size="19.2" text-anchor="end" fill="#000" stroke="#000">25</text>
<line x1="1510.50" y1="2223.50" x2="1522.50" y2="2223.50" stroke="#2b2b2b" stroke-width="1"/>
<text x="1507.30" y="2230.02" font-size="19.2" text-anchor="end" fill="#000" stroke="#000">50</text>
<line x1="1510.50" y1="2150.50" x2="1522.50" y2="2150.50" stroke="#2b2b2b" stroke-width="1"/>
<text x="1507.30" y="2157.45" font-size="19.2" text-anchor="end" fill="#000" stroke="#000">75</text>
<line x1="1510.50" y1="2078.50" x2="1522.50" y2="2078.50" stroke="#2b2b2b" stroke-width="1"/>
<text x="1507.30" y="2084.87" font-size="19.2" text-anchor="end" fill="#000" stroke="#000">100</text>
<line x1="1575.50" y1="2368.50" x2="1575.50" y2="2380.80" stroke="#2b2b2b" stroke-width="1"/>
<line x1="1654.50" y1="2368.50" x2="1654.50" y2="2380.80" stroke="#2b2b2b" stroke-width="1"/>
<line x1="1733.50" y1="2368.50" x2="1733.50" y2="2380.80" stroke="#2b2b2b" stroke-width="1"/>
<line x1="1812.50" y1="2368.50" x2="1812.50" y2="2380.80" stroke="#2b2b2b" stroke-width="1"/>
<line x1="1549.20" y1="2287.50" x2="1601.20" y2="2287.50" stroke="#111" stroke-width="1.3"/>
<circle cx="1575.20" cy="2271.05" r="3.1" fill="#000"/>
<circle cx="1575.20" cy="2287.60" r="3.1" fill="#000"/>
<circle cx="1575.20" cy="2299.21" r="3.1" fill="#000"/>
<line x1="1628.40" y1="2250.50" x2="1680.40" y2="2250.50" stroke="#111" stroke-width="1.3"/>
<circle cx="1654.40" cy="2200.51" r="3.1" fill="#000"/>
<circle cx="1654.40" cy="2250.15" r="3.1" fill="#000"/>
<circle cx="1654.40" cy="2263.79" r="3.1" fill="#000"/>
<line x1="1707.30" y1="2200.50" x2="1759.30" y2="2200.50" stroke="#111" stroke-width="1.3"/>
<circle cx="1733.30" cy="2127.93" r="3.1" fill="#000"/>
<circle cx="1733.30" cy="2200.80" r="3.1" fill="#000"/>
<circle cx="1733.30" cy="2212.12" r="3.1" fill="#000"/>
<line x1="1786.10" y1="2189.50" x2="1838.10" y2="2189.50" stroke="#111" stroke-width="1.3"/>
<circle cx="1812.10" cy="2120.67" r="3.1" fill="#000"/>
<circle cx="1818.10" cy="2188.89" r="3.1" fill="#000"/>
<circle cx="1806.10" cy="2192.67" r="3.1" fill="#000"/>
<text x="1460.50" y="2225.60" font-size="19.8" text-anchor="middle" fill="#000" stroke="#000" transform="rotate(-90 1460.50 2225.60)">intended edits:indels ratio</text>
<text x="1582.90" y="2393.00" font-size="17.8" text-anchor="end" fill="#000" stroke="#000" transform="rotate(-45 1582.90 2393.00)">PE2max</text>
<text x="1662.10" y="2393.00" font-size="17.8" text-anchor="end" fill="#000" stroke="#000" transform="rotate(-45 1662.10 2393.00)">PE3max</text>
<text x="1741.00" y="2393.00" font-size="17.8" text-anchor="end" fill="#000" stroke="#000" transform="rotate(-45 1741.00 2393.00)">EXPERTmax</text>
<text x="1819.80" y="2393.00" font-size="17.8" text-anchor="end" fill="#000" stroke="#000" transform="rotate(-45 1819.80 2393.00)">EXPERTmax</text>
<text x="1819.80" y="2393.00" font-size="17.8" text-anchor="end" fill="#000" stroke="#000" transform="rotate(-45 1819.80 2393.00) translate(10.68 22.43)">+nicking sgRNA</text>
<text x="41.00" y="2007.50" font-size="22" text-anchor="start" fill="#000" stroke="#000"><tspan font-style="italic">CFTR</tspan> exon 4</text>
<rect x="118.5" y="2048.5" width="695" height="27" rx="4" ry="4" fill="#93dbe6" stroke="#3b62b5" stroke-width="1"/>
<rect x="445.50" y="2049.00" width="157.50" height="26.00" fill="#e8431c"/>
<rect x="468.50" y="2049.00" width="10.00" height="26.00" fill="#000"/>
<rect x="504.00" y="2049.00" width="10.00" height="26.00" fill="#000"/>
<rect x="542.50" y="2049.00" width="10.00" height="26.00" fill="#000"/>
<rect x="577.00" y="2049.00" width="10.00" height="26.00" fill="#000"/>
<line x1="473.50" y1="2025.20" x2="473.50" y2="2048.50" stroke="#111" stroke-width="1"/>
<line x1="509.50" y1="1997.40" x2="509.50" y2="2048.50" stroke="#111" stroke-width="1"/>
<line x1="547.50" y1="2025.20" x2="547.50" y2="2048.50" stroke="#111" stroke-width="1"/>
<line x1="582.50" y1="1997.40" x2="582.50" y2="2048.50" stroke="#111" stroke-width="1"/>
<text x="498.50" y="1989.00" font-size="19.7" text-anchor="middle" fill="#000" stroke="#000">Y109X</text>
<text x="585.00" y="1989.00" font-size="19.7" text-anchor="middle" fill="#000" stroke="#000">P111A</text>
<text x="473.50" y="2020.00" font-size="19.7" text-anchor="middle" fill="#000" stroke="#000">S108F</text>
<text x="545.50" y="2020.00" font-size="19.7" text-anchor="middle" fill="#000" stroke="#000">D110H</text>
<text x="315.50" y="2025.00" font-size="16.9" text-anchor="start" fill="#e8651f" stroke="#e8651f">ext-pegRNA</text>
<text x="611.00" y="2025.00" font-size="16.9" text-anchor="start" fill="#23238e" stroke="#23238e">ups-sgRNA or epegRNA</text>
<text x="206.00" y="2107.80" font-size="16.9" text-anchor="start" fill="#000" stroke="#000">nicking-sgRNA</text>
<line x1="340.00" y1="2035.30" x2="445.50" y2="2035.30" stroke="#e8651f" stroke-width="1.3"/>
<line x1="344.80" y1="2035.30" x2="344.80" y2="2048.00" stroke="#e8651f" stroke-width="1.25"/>
<line x1="360.80" y1="2035.30" x2="360.80" y2="2048.00" stroke="#e8651f" stroke-width="1.25"/>
<line x1="376.30" y1="2035.30" x2="376.30" y2="2048.00" stroke="#e8651f" stroke-width="1.25"/>
<line x1="392.30" y1="2035.30" x2="392.30" y2="2048.00" stroke="#e8651f" stroke-width="1.25"/>
<line x1="408.30" y1="2035.30" x2="408.30" y2="2048.00" stroke="#e8651f" stroke-width="1.25"/>
<line x1="423.80" y1="2035.30" x2="423.80" y2="2048.00" stroke="#e8651f" stroke-width="1.25"/>
<line x1="438.80" y1="2035.30" x2="438.80" y2="2048.00" stroke="#e8651f" stroke-width="1.25"/>
<path d="M342.6,2032.7 L339.2,2035.3 L342.6,2037.8999999999999" fill="none" stroke="#e8651f" stroke-width="1.3" stroke-linejoin="miter"/>
<line x1="608.00" y1="2035.30" x2="714.00" y2="2035.30" stroke="#2b2b9c" stroke-width="1.05"/>
<line x1="612.60" y1="2035.30" x2="612.60" y2="2048.00" stroke="#2b2b9c" stroke-width="1.0"/>
<line x1="627.60" y1="2035.30" x2="627.60" y2="2048.00" stroke="#2b2b9c" stroke-width="1.0"/>
<line x1="643.60" y1="2035.30" x2="643.60" y2="2048.00" stroke="#2b2b9c" stroke-width="1.0"/>
<line x1="659.60" y1="2035.30" x2="659.60" y2="2048.00" stroke="#2b2b9c" stroke-width="1.0"/>
<line x1="675.10" y1="2035.30" x2="675.10" y2="2048.00" stroke="#2b2b9c" stroke-width="1.0"/>
<line x1="690.60" y1="2035.30" x2="690.60" y2="2048.00" stroke="#2b2b9c" stroke-width="1.0"/>
<line x1="705.60" y1="2035.30" x2="705.60" y2="2048.00" stroke="#2b2b9c" stroke-width="1.0"/>
<path d="M605.8,2035.3 L609.6,2032.8999999999999 L609.6,2037.7 Z" fill="#2b2b9c"/>
<line x1="210.00" y1="2090.00" x2="316.00" y2="2090.00" stroke="#111" stroke-width="1.3"/>
<line x1="215.40" y1="2090.00" x2="215.40" y2="2076.00" stroke="#111" stroke-width="1.25"/>
<line x1="231.40" y1="2090.00" x2="231.40" y2="2076.00" stroke="#111" stroke-width="1.25"/>
<line x1="247.40" y1="2090.00" x2="247.40" y2="2076.00" stroke="#111" stroke-width="1.25"/>
<line x1="263.40" y1="2090.00" x2="263.40" y2="2076.00" stroke="#111" stroke-width="1.25"/>
<line x1="279.40" y1="2090.00" x2="279.40" y2="2076.00" stroke="#111" stroke-width="1.25"/>
<line x1="295.40" y1="2090.00" x2="295.40" y2="2076.00" stroke="#111" stroke-width="1.25"/>
<line x1="310.40" y1="2090.00" x2="310.40" y2="2076.00" stroke="#111" stroke-width="1.25"/>
<path d="M313.4,2087.4 L316.8,2090 L313.4,2092.6" fill="none" stroke="#111" stroke-width="1.3" stroke-linejoin="miter"/>
<rect x="208.5" y="2121.5" width="517" height="88" fill="none" stroke="#9a9a9a" stroke-width="1" stroke-dasharray="1.2 2"/>
<rect x="208.5" y="2217.5" width="517" height="88" fill="none" stroke="#9a9a9a" stroke-width="1" stroke-dasharray="1.2 2"/>
<rect x="208.5" y="2313.5" width="517" height="88" fill="none" stroke="#9a9a9a" stroke-width="1" stroke-dasharray="1.2 2"/>
<rect x="208.5" y="2409.5" width="517" height="88" fill="none" stroke="#9a9a9a" stroke-width="1" stroke-dasharray="1.2 2"/>
<text x="118.00" y="2167.50" font-size="19.8" text-anchor="middle" fill="#000" stroke="#000">PE2max</text>
<text x="120.50" y="2265.00" font-size="19.8" text-anchor="middle" fill="#000" stroke="#000">PE3max</text>
<text x="122.50" y="2365.00" font-size="19.8" text-anchor="middle" fill="#000" stroke="#000">EXPERTmax</text>
<text x="118.50" y="2446.50" font-size="19.8" text-anchor="middle" fill="#000" stroke="#000">EXPERTmax</text>
<text x="118.50" y="2469.50" font-size="19.8" text-anchor="middle" fill="#000" stroke="#000">+nicking sgRNA</text>
<g transform="translate(0 -94.5)">
<path d="M630.00,2235.8V2239.6M633.65,2235.8V2239.6M637.30,2235.8V2239.6M640.96,2235.8V2239.6M644.61,2235.8V2239.6M648.26,2235.8V2239.6M651.91,2235.8V2239.6M655.57,2235.8V2239.6M659.22,2235.8V2239.6M662.87,2235.8V2239.6M666.52,2235.8V2239.6M670.18,2235.8V2239.6M673.83,2235.8V2239.6M677.48,2235.8V2239.6M681.13,2235.8V2239.6M684.79,2235.8V2239.6M688.44,2235.8V2239.6M692.09,2235.8V2239.6M695.74,2235.8V2239.6M699.40,2235.8V2239.6M703.05,2235.8V2239.6M706.70,2235.8V2239.6" stroke="#2f3aa0" stroke-width="0.9" opacity="0.55" fill="none"/>
<path d="M628.00,2274.4V2270.3M631.76,2274.4V2270.3M635.52,2274.4V2270.3M639.28,2274.4V2270.3M643.04,2274.4V2270.3M646.80,2274.4V2270.3M650.56,2274.4V2270.3M654.32,2274.4V2270.3M658.08,2274.4V2270.3M661.84,2274.4V2270.3M665.60,2274.4V2270.3" stroke="#2f3aa0" stroke-width="0.9" opacity="0.55" fill="none"/>
<path d="M668.60,2275V2279.5M670.30,2275V2279.5M672.00,2275V2279.5" stroke="#2f3aa0" stroke-width="0.9" opacity="0.4" fill="none"/>
<path d="M708.7,2235.5 H601 L585.3,2220.6 C583,2218.6 580,2218.6 578,2220.6 C576,2222.6 575.2,2224.4 577.3,2226.4 L585.7,2235 C582.3,2240 580.5,2245 579.9,2251.1 L578.9,2261.3 L569.6,2266.8 C566.6,2268.6 566.2,2271.6 567.6,2273.8 C569,2276.4 571.2,2277 573.4,2275.9 L593.7,2265 C594,2268 595.5,2274.6 600.5,2274.6 H666.6 C667.2,2278 667.4,2282.5 669.9,2282.5 C672.6,2282.5 672.9,2278 673.2,2274.6" fill="none" stroke="#2f3aa0" stroke-width="1.1" stroke-linejoin="round"/>
<ellipse cx="601.3" cy="2272.5" rx="1.35" ry="3.4" fill="#000"/>
<ellipse cx="608.8" cy="2272.5" rx="1.35" ry="3.4" fill="#000"/>
<ellipse cx="616.1" cy="2272.5" rx="1.35" ry="3.4" fill="#000"/>
<ellipse cx="623.9" cy="2272.5" rx="1.35" ry="3.4" fill="#000"/>
<text x="601" y="2293.7" font-size="14.6" fill="#23238e" stroke="#23238e" textLength="58" lengthAdjust="spacingAndGlyphs">epegRNA</text>
</g>
<g transform="translate(0 0)">
<path d="M222.00,2258.3V2254.2M225.65,2258.3V2254.2M229.29,2258.3V2254.2M232.94,2258.3V2254.2M236.59,2258.3V2254.2M240.24,2258.3V2254.2M243.88,2258.3V2254.2M247.53,2258.3V2254.2M251.18,2258.3V2254.2M254.83,2258.3V2254.2M258.47,2258.3V2254.2M262.12,2258.3V2254.2M265.77,2258.3V2254.2M269.42,2258.3V2254.2M273.06,2258.3V2254.2M276.71,2258.3V2254.2M280.36,2258.3V2254.2M284.01,2258.3V2254.2M287.65,2258.3V2254.2M291.30,2258.3V2254.2" stroke="#333" stroke-width="0.9" opacity="0.75" fill="none"/>
<path d="M219.1,2258.5 H299.2 C304.5,2258.5 305.2,2264 303.8,2266.2 C302,2269 298,2268 295.5,2268.6 C290.5,2269.6 288,2273.5 289,2276 C289.8,2278.2 291.3,2279.3 292.7,2279.7" fill="none" stroke="#222" stroke-width="1.1"/>
<text x="215.6" y="2294" font-size="14.6" fill="#111" stroke="#111" textLength="87.5" lengthAdjust="spacingAndGlyphs">nicking sgRNA</text>
</g>
<line x1="440.00" y1="2262.50" x2="452.00" y2="2262.50" stroke="#999" stroke-width="1.4"/>
<line x1="446.50" y1="2256.80" x2="446.50" y2="2268.80" stroke="#999" stroke-width="1.4"/>
<g transform="translate(0 0)">
<path d="M630.00,2235.8V2239.6M633.65,2235.8V2239.6M637.30,2235.8V2239.6M640.96,2235.8V2239.6M644.61,2235.8V2239.6M648.26,2235.8V2239.6M651.91,2235.8V2239.6M655.57,2235.8V2239.6M659.22,2235.8V2239.6M662.87,2235.8V2239.6M666.52,2235.8V2239.6M670.18,2235.8V2239.6M673.83,2235.8V2239.6M677.48,2235.8V2239.6M681.13,2235.8V2239.6M684.79,2235.8V2239.6M688.44,2235.8V2239.6M692.09,2235.8V2239.6M695.74,2235.8V2239.6M699.40,2235.8V2239.6M703.05,2235.8V2239.6M706.70,2235.8V2239.6" stroke="#2f3aa0" stroke-width="0.9" opacity="0.55" fill="none"/>
<path d="M628.00,2274.4V2270.3M631.76,2274.4V2270.3M635.52,2274.4V2270.3M639.28,2274.4V2270.3M643.04,2274.4V2270.3M646.80,2274.4V2270.3M650.56,2274.4V2270.3M654.32,2274.4V2270.3M658.08,2274.4V2270.3M661.84,2274.4V2270.3M665.60,2274.4V2270.3" stroke="#2f3aa0" stroke-width="0.9" opacity="0.55" fill="none"/>
<path d="M668.60,2275V2279.5M670.30,2275V2279.5M672.00,2275V2279.5" stroke="#2f3aa0" stroke-width="0.9" opacity="0.4" fill="none"/>
<path d="M708.7,2235.5 H601 L585.3,2220.6 C583,2218.6 580,2218.6 578,2220.6 C576,2222.6 575.2,2224.4 577.3,2226.4 L585.7,2235 C582.3,2240 580.5,2245 579.9,2251.1 L578.9,2261.3 L569.6,2266.8 C566.6,2268.6 566.2,2271.6 567.6,2273.8 C569,2276.4 571.2,2277 573.4,2275.9 L593.7,2265 C594,2268 595.5,2274.6 600.5,2274.6 H666.6 C667.2,2278 667.4,2282.5 669.9,2282.5 C672.6,2282.5 672.9,2278 673.2,2274.6" fill="none" stroke="#2f3aa0" stroke-width="1.1" stroke-linejoin="round"/>
<ellipse cx="601.3" cy="2272.5" rx="1.35" ry="3.4" fill="#000"/>
<ellipse cx="608.8" cy="2272.5" rx="1.35" ry="3.4" fill="#000"/>
<ellipse cx="616.1" cy="2272.5" rx="1.35" ry="3.4" fill="#000"/>
<ellipse cx="623.9" cy="2272.5" rx="1.35" ry="3.4" fill="#000"/>
<text x="601" y="2293.7" font-size="14.6" fill="#23238e" stroke="#23238e" textLength="58" lengthAdjust="spacingAndGlyphs">epegRNA</text>
</g>
<g transform="translate(0 0)">
<path d="M382.00,2332.6V2336.4M385.69,2332.6V2336.4M389.38,2332.6V2336.4M393.06,2332.6V2336.4M396.75,2332.6V2336.4M400.44,2332.6V2336.4M404.12,2332.6V2336.4M407.81,2332.6V2336.4M411.50,2332.6V2336.4M415.19,2332.6V2336.4M418.88,2332.6V2336.4M422.56,2332.6V2336.4M426.25,2332.6V2336.4M429.94,2332.6V2336.4M433.62,2332.6V2336.4M437.31,2332.6V2336.4M441.00,2332.6V2336.4" stroke="#e8702a" stroke-width="0.9" opacity="0.7" fill="none"/>
<path d="M395.20,2370.8V2367.3M398.79,2370.8V2367.3M402.38,2370.8V2367.3M405.98,2370.8V2367.3M409.57,2370.8V2367.3M413.16,2370.8V2367.3M416.75,2370.8V2367.3M420.35,2370.8V2367.3M423.94,2370.8V2367.3M427.53,2370.8V2367.3M431.12,2370.8V2367.3M434.72,2370.8V2367.3M438.31,2370.8V2367.3M441.90,2370.8V2367.3M445.49,2370.8V2367.3M449.08,2370.8V2367.3M452.68,2370.8V2367.3M456.27,2370.8V2367.3M459.86,2370.8V2367.3M463.45,2370.8V2367.3M467.05,2370.8V2367.3M470.64,2370.8V2367.3M474.23,2370.8V2367.3M477.82,2370.8V2367.3M481.42,2370.8V2367.3M485.01,2370.8V2367.3M488.60,2370.8V2367.3M492.19,2370.8V2367.3M495.78,2370.8V2367.3M499.38,2370.8V2367.3M502.97,2370.8V2367.3M506.56,2370.8V2367.3M510.15,2370.8V2367.3M513.75,2370.8V2367.3M517.34,2370.8V2367.3M520.93,2370.8V2367.3M524.52,2370.8V2367.3M528.12,2370.8V2367.3M531.71,2370.8V2367.3M535.30,2370.8V2367.3" stroke="#e8702a" stroke-width="0.9" opacity="0.7" fill="none"/>
<path d="M538.40,2371.4V2376M540.10,2371.4V2376M541.80,2371.4V2376" stroke="#e8702a" stroke-width="0.9" opacity="0.45" fill="none"/>
<path d="M441.6,2332.3 H380.2 L366.2,2317.4 C364.2,2315.4 361.2,2315.2 359.2,2316.9 C357,2318.8 355.2,2321 357.2,2323 L365,2331.6 C361.6,2336.5 360.2,2341.2 359.7,2346 L358.5,2356.9 L349.5,2362.4 C346.5,2364.3 346.2,2367 347.4,2369.3 C348.8,2372 351,2373.6 353.6,2372.2 L373,2361 C373.3,2365 375,2371 380.5,2371 H536.8 C537.3,2374.5 537.7,2378.7 540.2,2378.7 C542.8,2378.7 543.2,2374.5 543.8,2371" fill="none" stroke="#e8702a" stroke-width="1.1" stroke-linejoin="round"/>
<ellipse cx="477.3" cy="2369" rx="1.35" ry="3.4" fill="#000"/>
<ellipse cx="485.8" cy="2369" rx="1.35" ry="3.4" fill="#000"/>
<ellipse cx="494.3" cy="2369" rx="1.35" ry="3.4" fill="#000"/>
<ellipse cx="502.5" cy="2369" rx="1.35" ry="3.4" fill="#000"/>
<text x="407.8" y="2390" font-size="14.6" fill="#e8702a" stroke="#e8702a" textLength="73" lengthAdjust="spacingAndGlyphs">ext-pegRNA</text>
</g>
<line x1="561.90" y1="2352.50" x2="573.90" y2="2352.50" stroke="#999" stroke-width="1.4"/>
<line x1="567.50" y1="2346.60" x2="567.50" y2="2358.60" stroke="#999" stroke-width="1.4"/>
<g transform="translate(0 0)">
<path d="M640.40,2342.7V2346.5M644.09,2342.7V2346.5M647.78,2342.7V2346.5M651.47,2342.7V2346.5M655.16,2342.7V2346.5M658.84,2342.7V2346.5M662.53,2342.7V2346.5M666.22,2342.7V2346.5M669.91,2342.7V2346.5M673.60,2342.7V2346.5M677.29,2342.7V2346.5M680.98,2342.7V2346.5M684.67,2342.7V2346.5M688.36,2342.7V2346.5M692.04,2342.7V2346.5M695.73,2342.7V2346.5M699.42,2342.7V2346.5M703.11,2342.7V2346.5M706.80,2342.7V2346.5" stroke="#2f3aa0" stroke-width="0.9" opacity="0.55" fill="none"/>
<path d="M632.4,2321.4 C637.5,2322.4 638.5,2327.5 636.3,2330 C634,2332.6 630.5,2332 627.5,2332.8 C623.5,2334 622.6,2337.4 623.6,2339.6 C624.8,2342 626.6,2342.4 629,2342.4 H707.5" fill="none" stroke="#2f3aa0" stroke-width="1.1"/>
<text x="601.7" y="2390" font-size="14.6" fill="#23238e" stroke="#23238e" textLength="67.6" lengthAdjust="spacingAndGlyphs">ups-sgRNA</text>
</g>
<g transform="translate(0 192)">
<path d="M222.00,2258.3V2254.2M225.65,2258.3V2254.2M229.29,2258.3V2254.2M232.94,2258.3V2254.2M236.59,2258.3V2254.2M240.24,2258.3V2254.2M243.88,2258.3V2254.2M247.53,2258.3V2254.2M251.18,2258.3V2254.2M254.83,2258.3V2254.2M258.47,2258.3V2254.2M262.12,2258.3V2254.2M265.77,2258.3V2254.2M269.42,2258.3V2254.2M273.06,2258.3V2254.2M276.71,2258.3V2254.2M280.36,2258.3V2254.2M284.01,2258.3V2254.2M287.65,2258.3V2254.2M291.30,2258.3V2254.2" stroke="#333" stroke-width="0.9" opacity="0.75" fill="none"/>
<path d="M219.1,2258.5 H299.2 C304.5,2258.5 305.2,2264 303.8,2266.2 C302,2269 298,2268 295.5,2268.6 C290.5,2269.6 288,2273.5 289,2276 C289.8,2278.2 291.3,2279.3 292.7,2279.7" fill="none" stroke="#222" stroke-width="1.1"/>
<text x="215.6" y="2294" font-size="14.6" fill="#111" stroke="#111" textLength="87.5" lengthAdjust="spacingAndGlyphs">nicking sgRNA</text>
</g>
<line x1="321.00" y1="2448.50" x2="333.00" y2="2448.50" stroke="#999" stroke-width="1.4"/>
<line x1="326.50" y1="2443.00" x2="326.50" y2="2455.00" stroke="#999" stroke-width="1.4"/>
<g transform="translate(0 96)">
<path d="M382.00,2332.6V2336.4M385.69,2332.6V2336.4M389.38,2332.6V2336.4M393.06,2332.6V2336.4M396.75,2332.6V2336.4M400.44,2332.6V2336.4M404.12,2332.6V2336.4M407.81,2332.6V2336.4M411.50,2332.6V2336.4M415.19,2332.6V2336.4M418.88,2332.6V2336.4M422.56,2332.6V2336.4M426.25,2332.6V2336.4M429.94,2332.6V2336.4M433.62,2332.6V2336.4M437.31,2332.6V2336.4M441.00,2332.6V2336.4" stroke="#e8702a" stroke-width="0.9" opacity="0.7" fill="none"/>
<path d="M395.20,2370.8V2367.3M398.79,2370.8V2367.3M402.38,2370.8V2367.3M405.98,2370.8V2367.3M409.57,2370.8V2367.3M413.16,2370.8V2367.3M416.75,2370.8V2367.3M420.35,2370.8V2367.3M423.94,2370.8V2367.3M427.53,2370.8V2367.3M431.12,2370.8V2367.3M434.72,2370.8V2367.3M438.31,2370.8V2367.3M441.90,2370.8V2367.3M445.49,2370.8V2367.3M449.08,2370.8V2367.3M452.68,2370.8V2367.3M456.27,2370.8V2367.3M459.86,2370.8V2367.3M463.45,2370.8V2367.3M467.05,2370.8V2367.3M470.64,2370.8V2367.3M474.23,2370.8V2367.3M477.82,2370.8V2367.3M481.42,2370.8V2367.3M485.01,2370.8V2367.3M488.60,2370.8V2367.3M492.19,2370.8V2367.3M495.78,2370.8V2367.3M499.38,2370.8V2367.3M502.97,2370.8V2367.3M506.56,2370.8V2367.3M510.15,2370.8V2367.3M513.75,2370.8V2367.3M517.34,2370.8V2367.3M520.93,2370.8V2367.3M524.52,2370.8V2367.3M528.12,2370.8V2367.3M531.71,2370.8V2367.3M535.30,2370.8V2367.3" stroke="#e8702a" stroke-width="0.9" opacity="0.7" fill="none"/>
<path d="M538.40,2371.4V2376M540.10,2371.4V2376M541.80,2371.4V2376" stroke="#e8702a" stroke-width="0.9" opacity="0.45" fill="none"/>
<path d="M441.6,2332.3 H380.2 L366.2,2317.4 C364.2,2315.4 361.2,2315.2 359.2,2316.9 C357,2318.8 355.2,2321 357.2,2323 L365,2331.6 C361.6,2336.5 360.2,2341.2 359.7,2346 L358.5,2356.9 L349.5,2362.4 C346.5,2364.3 346.2,2367 347.4,2369.3 C348.8,2372 351,2373.6 353.6,2372.2 L373,2361 C373.3,2365 375,2371 380.5,2371 H536.8 C537.3,2374.5 537.7,2378.7 540.2,2378.7 C542.8,2378.7 543.2,2374.5 543.8,2371" fill="none" stroke="#e8702a" stroke-width="1.1" stroke-linejoin="round"/>
<ellipse cx="477.3" cy="2369" rx="1.35" ry="3.4" fill="#000"/>
<ellipse cx="485.8" cy="2369" rx="1.35" ry="3.4" fill="#000"/>
<ellipse cx="494.3" cy="2369" rx="1.35" ry="3.4" fill="#000"/>
<ellipse cx="502.5" cy="2369" rx="1.35" ry="3.4" fill="#000"/>
<text x="407.8" y="2390" font-size="14.6" fill="#e8702a" stroke="#e8702a" textLength="73" lengthAdjust="spacingAndGlyphs">ext-pegRNA</text>
</g>
<line x1="561.50" y1="2448.50" x2="573.50" y2="2448.50" stroke="#999" stroke-width="1.4"/>
<line x1="567.50" y1="2442.50" x2="567.50" y2="2454.50" stroke="#999" stroke-width="1.4"/>
<g transform="translate(0 96)">
<path d="M640.40,2342.7V2346.5M644.09,2342.7V2346.5M647.78,2342.7V2346.5M651.47,2342.7V2346.5M655.16,2342.7V2346.5M658.84,2342.7V2346.5M662.53,2342.7V2346.5M666.22,2342.7V2346.5M669.91,2342.7V2346.5M673.60,2342.7V2346.5M677.29,2342.7V2346.5M680.98,2342.7V2346.5M684.67,2342.7V2346.5M688.36,2342.7V2346.5M692.04,2342.7V2346.5M695.73,2342.7V2346.5M699.42,2342.7V2346.5M703.11,2342.7V2346.5M706.80,2342.7V2346.5" stroke="#2f3aa0" stroke-width="0.9" opacity="0.55" fill="none"/>
<path d="M632.4,2321.4 C637.5,2322.4 638.5,2327.5 636.3,2330 C634,2332.6 630.5,2332 627.5,2332.8 C623.5,2334 622.6,2337.4 623.6,2339.6 C624.8,2342 626.6,2342.4 629,2342.4 H707.5" fill="none" stroke="#2f3aa0" stroke-width="1.1"/>
<text x="601.7" y="2390" font-size="14.6" fill="#23238e" stroke="#23238e" textLength="67.6" lengthAdjust="spacingAndGlyphs">ups-sgRNA</text>
</g>
</svg>
</body></html>
